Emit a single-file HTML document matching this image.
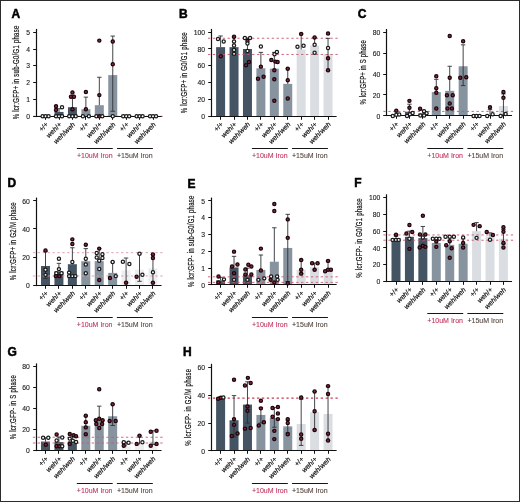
<!DOCTYPE html>
<html><head><meta charset="utf-8"><style>
html,body{margin:0;padding:0;background:#fff;}
body{width:520px;height:502px;overflow:hidden;}
svg{display:block;will-change:transform;}
text{font-family:"Liberation Sans",sans-serif;fill:#1a1a1a;}
.let{font-size:12px;font-weight:bold;fill:#000;stroke:#000;stroke-width:0.5px;}
.yl{font-size:8.3px;fill:#1a1a1a;stroke:#1a1a1a;stroke-width:0.22px;}
.tk{font-size:6.8px;fill:#222;stroke:#222;stroke-width:0.12px;}
.xl{font-size:6.9px;fill:#111;stroke:#111;stroke-width:0.18px;}
.gl{font-size:7px;stroke-width:0.1px;}
</style></head><body>
<svg width="520" height="502" viewBox="0 0 520 502">
<rect x="0" y="0" width="520" height="502" fill="#fff"/>
<g id="pA"><text x="11.5" y="18.2" class="let">A</text>
<text class="yl" transform="translate(19.3,72.5) rotate(-90) scale(0.72,1)" text-anchor="middle" textLength="130" lengthAdjust="spacing">% lcr:GFP+ in sub-G0/G1 phase</text>
<rect x="54.53" y="111.93" width="9.0" height="4.37" fill="#445462"/>
<rect x="67.96" y="107.22" width="9.0" height="9.08" fill="#445462"/>
<rect x="81.39" y="109.24" width="9.0" height="7.06" fill="#8794a0"/>
<rect x="94.82" y="105.2" width="9.0" height="11.1" fill="#8794a0"/>
<rect x="108.25" y="75.09" width="9.0" height="41.21" fill="#8794a0"/>
<line x1="33" y1="116.3" x2="163.64" y2="116.3" stroke="#c9566c" stroke-width="0.9" stroke-dasharray="2.3 2.6"/>
<line x1="59.03" y1="111.93" x2="59.03" y2="108.73" stroke="#2c3035" stroke-width="0.9"/>
<line x1="56.83" y1="108.73" x2="61.23" y2="108.73" stroke="#2c3035" stroke-width="0.9"/>
<line x1="72.46" y1="107.22" x2="72.46" y2="97.8" stroke="#2c3035" stroke-width="0.9"/>
<line x1="70.26" y1="97.8" x2="74.66" y2="97.8" stroke="#2c3035" stroke-width="0.9"/>
<line x1="85.89" y1="109.24" x2="85.89" y2="97.13" stroke="#2c3035" stroke-width="0.9"/>
<line x1="83.69" y1="97.13" x2="88.09" y2="97.13" stroke="#2c3035" stroke-width="0.9"/>
<line x1="99.32" y1="105.2" x2="99.32" y2="77.28" stroke="#2c3035" stroke-width="0.9"/>
<line x1="97.12" y1="77.28" x2="101.52" y2="77.28" stroke="#2c3035" stroke-width="0.9"/>
<line x1="112.75" y1="111.25" x2="112.75" y2="36.07" stroke="#2c3035" stroke-width="0.9"/>
<line x1="110.55" y1="36.07" x2="114.95" y2="36.07" stroke="#2c3035" stroke-width="0.9"/>
<line x1="110.55" y1="111.25" x2="114.95" y2="111.25" stroke="#2c3035" stroke-width="0.9"/>
<line x1="36.5" y1="28.9" x2="36.5" y2="117.1" stroke="#111" stroke-width="1.2"/>
<line x1="35.9" y1="116.5" x2="161.64" y2="116.5" stroke="#111" stroke-width="1.2"/>
<line x1="33.2" y1="116.5" x2="36.5" y2="116.5" stroke="#111" stroke-width="1"/>
<text x="30" y="118.9" class="tk" text-anchor="end">0</text>
<line x1="33.2" y1="99.5" x2="36.5" y2="99.5" stroke="#111" stroke-width="1"/>
<text x="30" y="102.08" class="tk" text-anchor="end">1</text>
<line x1="33.2" y1="82.5" x2="36.5" y2="82.5" stroke="#111" stroke-width="1"/>
<text x="30" y="85.26" class="tk" text-anchor="end">2</text>
<line x1="33.2" y1="65.5" x2="36.5" y2="65.5" stroke="#111" stroke-width="1"/>
<text x="30" y="68.44" class="tk" text-anchor="end">3</text>
<line x1="33.2" y1="49.5" x2="36.5" y2="49.5" stroke="#111" stroke-width="1"/>
<text x="30" y="51.62" class="tk" text-anchor="end">4</text>
<line x1="33.2" y1="32.5" x2="36.5" y2="32.5" stroke="#111" stroke-width="1"/>
<text x="30" y="34.8" class="tk" text-anchor="end">5</text>
<line x1="45.5" y1="116.5" x2="45.5" y2="119.8" stroke="#111" stroke-width="1"/>
<line x1="59.5" y1="116.5" x2="59.5" y2="119.8" stroke="#111" stroke-width="1"/>
<line x1="72.5" y1="116.5" x2="72.5" y2="119.8" stroke="#111" stroke-width="1"/>
<line x1="85.5" y1="116.5" x2="85.5" y2="119.8" stroke="#111" stroke-width="1"/>
<line x1="99.5" y1="116.5" x2="99.5" y2="119.8" stroke="#111" stroke-width="1"/>
<line x1="112.5" y1="116.5" x2="112.5" y2="119.8" stroke="#111" stroke-width="1"/>
<line x1="126.5" y1="116.5" x2="126.5" y2="119.8" stroke="#111" stroke-width="1"/>
<line x1="139.5" y1="116.5" x2="139.5" y2="119.8" stroke="#111" stroke-width="1"/>
<line x1="153.5" y1="116.5" x2="153.5" y2="119.8" stroke="#111" stroke-width="1"/>
<circle cx="42.6" cy="116.3" r="1.6" fill="#fff" stroke="#1a1a1a" stroke-width="1.25"/>
<circle cx="45.6" cy="116.3" r="1.6" fill="#fff" stroke="#1a1a1a" stroke-width="1.25"/>
<circle cx="48.6" cy="116.3" r="1.6" fill="#fff" stroke="#1a1a1a" stroke-width="1.25"/>
<circle cx="56.03" cy="106.21" r="1.6" fill="#862840" stroke="#1c0509" stroke-width="1.25"/>
<circle cx="56.03" cy="109.91" r="1.6" fill="#862840" stroke="#1c0509" stroke-width="1.25"/>
<circle cx="62.03" cy="107.22" r="1.6" fill="#fff" stroke="#1a1a1a" stroke-width="1.25"/>
<circle cx="56.03" cy="116.3" r="1.6" fill="#fff" stroke="#1a1a1a" stroke-width="1.25"/>
<circle cx="59.03" cy="116.3" r="1.6" fill="#fff" stroke="#1a1a1a" stroke-width="1.25"/>
<circle cx="62.03" cy="116.3" r="1.6" fill="#fff" stroke="#1a1a1a" stroke-width="1.25"/>
<circle cx="72.46" cy="92.42" r="1.6" fill="#862840" stroke="#1c0509" stroke-width="1.25"/>
<circle cx="70.96" cy="96.79" r="1.6" fill="#862840" stroke="#1c0509" stroke-width="1.25"/>
<circle cx="73.96" cy="96.79" r="1.6" fill="#862840" stroke="#1c0509" stroke-width="1.25"/>
<circle cx="72.46" cy="109.24" r="1.6" fill="#862840" stroke="#1c0509" stroke-width="1.25"/>
<circle cx="69.16" cy="116.3" r="1.6" fill="#fff" stroke="#1a1a1a" stroke-width="1.25"/>
<circle cx="72.46" cy="116.3" r="1.6" fill="#fff" stroke="#1a1a1a" stroke-width="1.25"/>
<circle cx="75.76" cy="116.3" r="1.6" fill="#fff" stroke="#1a1a1a" stroke-width="1.25"/>
<circle cx="85.89" cy="92.08" r="1.6" fill="#862840" stroke="#1c0509" stroke-width="1.25"/>
<circle cx="85.89" cy="109.24" r="1.6" fill="#862840" stroke="#1c0509" stroke-width="1.25"/>
<circle cx="82.89" cy="116.3" r="1.6" fill="#fff" stroke="#1a1a1a" stroke-width="1.25"/>
<circle cx="88.89" cy="116.3" r="1.6" fill="#fff" stroke="#1a1a1a" stroke-width="1.25"/>
<circle cx="99.32" cy="40.61" r="1.6" fill="#862840" stroke="#1c0509" stroke-width="1.25"/>
<circle cx="99.32" cy="95.11" r="1.6" fill="#862840" stroke="#1c0509" stroke-width="1.25"/>
<circle cx="96.32" cy="116.3" r="1.6" fill="#fff" stroke="#1a1a1a" stroke-width="1.25"/>
<circle cx="99.32" cy="116.3" r="1.6" fill="#862840" stroke="#1c0509" stroke-width="1.25"/>
<circle cx="102.32" cy="116.3" r="1.6" fill="#fff" stroke="#1a1a1a" stroke-width="1.25"/>
<circle cx="112.75" cy="41.45" r="1.6" fill="#862840" stroke="#1c0509" stroke-width="1.25"/>
<circle cx="112.75" cy="64.16" r="1.6" fill="#862840" stroke="#1c0509" stroke-width="1.25"/>
<circle cx="112.75" cy="116.3" r="1.6" fill="#fff" stroke="#1a1a1a" stroke-width="1.25"/>
<circle cx="123.18" cy="116.3" r="1.6" fill="#fff" stroke="#1a1a1a" stroke-width="1.25"/>
<circle cx="126.18" cy="116.3" r="1.6" fill="#fff" stroke="#1a1a1a" stroke-width="1.25"/>
<circle cx="129.18" cy="116.3" r="1.6" fill="#fff" stroke="#1a1a1a" stroke-width="1.25"/>
<circle cx="136.61" cy="116.3" r="1.6" fill="#fff" stroke="#1a1a1a" stroke-width="1.25"/>
<circle cx="139.61" cy="116.3" r="1.6" fill="#fff" stroke="#1a1a1a" stroke-width="1.25"/>
<circle cx="142.61" cy="116.3" r="1.6" fill="#fff" stroke="#1a1a1a" stroke-width="1.25"/>
<circle cx="150.04" cy="116.3" r="1.6" fill="#fff" stroke="#1a1a1a" stroke-width="1.25"/>
<circle cx="153.04" cy="116.3" r="1.6" fill="#fff" stroke="#1a1a1a" stroke-width="1.25"/>
<circle cx="156.04" cy="116.3" r="1.6" fill="#fff" stroke="#1a1a1a" stroke-width="1.25"/>
<text class="xl" text-anchor="end" transform="translate(48.7,125) rotate(-45)">+/+</text>
<text class="xl" text-anchor="end" transform="translate(62.13,125) rotate(-45)"><tspan font-style="italic">weh</tspan>/+</text>
<text class="xl" text-anchor="end" transform="translate(75.56,125) rotate(-45)"><tspan font-style="italic">weh</tspan>/<tspan font-style="italic">weh</tspan></text>
<text class="xl" text-anchor="end" transform="translate(88.99,125) rotate(-45)">+/+</text>
<text class="xl" text-anchor="end" transform="translate(102.42,125) rotate(-45)"><tspan font-style="italic">weh</tspan>/+</text>
<text class="xl" text-anchor="end" transform="translate(115.85,125) rotate(-45)"><tspan font-style="italic">weh</tspan>/<tspan font-style="italic">weh</tspan></text>
<text class="xl" text-anchor="end" transform="translate(129.28,125) rotate(-45)">+/+</text>
<text class="xl" text-anchor="end" transform="translate(142.71,125) rotate(-45)"><tspan font-style="italic">weh</tspan>/+</text>
<text class="xl" text-anchor="end" transform="translate(156.14,125) rotate(-45)"><tspan font-style="italic">weh</tspan>/<tspan font-style="italic">weh</tspan></text>
<line x1="76.9" y1="148.5" x2="112.8" y2="148.5" stroke="#151515" stroke-width="1.1"/>
<text class="gl" x="76.9" y="157.9" textLength="35.7" lengthAdjust="spacingAndGlyphs"><tspan fill="#a83558" stroke="#a83558">+</tspan><tspan fill="#c4365f" stroke="#c4365f">10uM Iron</tspan></text>
<line x1="117" y1="148.5" x2="152.9" y2="148.5" stroke="#151515" stroke-width="1.1"/>
<text class="gl" x="117" y="157.9" textLength="35.7" lengthAdjust="spacingAndGlyphs"><tspan fill="#333" stroke="#333">+</tspan><tspan fill="#56483f" stroke="#56483f">15uM Iron</tspan></text></g>
<g id="pB"><text x="178.9" y="17.7" class="let">B</text>
<text class="yl" transform="translate(186.5,72.8) rotate(-90) scale(0.72,1)" text-anchor="middle" textLength="112.22" lengthAdjust="spacing">% lcr:GFP+ in G0/G1 phase</text>
<rect x="216.1" y="47.15" width="9.0" height="69.05" fill="#445462"/>
<rect x="229.53" y="47.15" width="9.0" height="69.05" fill="#445462"/>
<rect x="242.96" y="49" width="9.0" height="67.2" fill="#445462"/>
<rect x="256.39" y="68.32" width="9.0" height="47.88" fill="#8794a0"/>
<rect x="269.82" y="68.66" width="9.0" height="47.54" fill="#8794a0"/>
<rect x="283.25" y="83.86" width="9.0" height="32.34" fill="#8794a0"/>
<rect x="296.68" y="49.5" width="9.0" height="66.7" fill="#dadee2"/>
<rect x="310.11" y="45.64" width="9.0" height="70.56" fill="#dadee2"/>
<rect x="323.54" y="54.04" width="9.0" height="62.16" fill="#dadee2"/>
<line x1="208" y1="38.25" x2="338.64" y2="38.25" stroke="#c9566c" stroke-width="0.9" stroke-dasharray="2.3 2.6"/>
<line x1="208" y1="54.46" x2="338.64" y2="54.46" stroke="#c9566c" stroke-width="0.9" stroke-dasharray="2.3 2.6"/>
<line x1="220.6" y1="47.15" x2="220.6" y2="35.98" stroke="#2c3035" stroke-width="0.9"/>
<line x1="218.4" y1="35.98" x2="222.8" y2="35.98" stroke="#2c3035" stroke-width="0.9"/>
<line x1="234.03" y1="47.15" x2="234.03" y2="37.24" stroke="#2c3035" stroke-width="0.9"/>
<line x1="231.83" y1="37.24" x2="236.23" y2="37.24" stroke="#2c3035" stroke-width="0.9"/>
<line x1="247.46" y1="49" x2="247.46" y2="38.08" stroke="#2c3035" stroke-width="0.9"/>
<line x1="245.26" y1="38.08" x2="249.66" y2="38.08" stroke="#2c3035" stroke-width="0.9"/>
<line x1="260.89" y1="68.32" x2="260.89" y2="52.36" stroke="#2c3035" stroke-width="0.9"/>
<line x1="258.69" y1="52.36" x2="263.09" y2="52.36" stroke="#2c3035" stroke-width="0.9"/>
<line x1="274.32" y1="68.66" x2="274.32" y2="52.36" stroke="#2c3035" stroke-width="0.9"/>
<line x1="272.12" y1="52.36" x2="276.52" y2="52.36" stroke="#2c3035" stroke-width="0.9"/>
<line x1="287.75" y1="83.86" x2="287.75" y2="68.66" stroke="#2c3035" stroke-width="0.9"/>
<line x1="285.55" y1="68.66" x2="289.95" y2="68.66" stroke="#2c3035" stroke-width="0.9"/>
<line x1="301.18" y1="49.5" x2="301.18" y2="33.88" stroke="#2c3035" stroke-width="0.9"/>
<line x1="298.98" y1="33.88" x2="303.38" y2="33.88" stroke="#2c3035" stroke-width="0.9"/>
<line x1="314.61" y1="45.64" x2="314.61" y2="37.58" stroke="#2c3035" stroke-width="0.9"/>
<line x1="312.41" y1="37.58" x2="316.81" y2="37.58" stroke="#2c3035" stroke-width="0.9"/>
<line x1="328.04" y1="70.42" x2="328.04" y2="38.33" stroke="#2c3035" stroke-width="0.9"/>
<line x1="325.84" y1="38.33" x2="330.24" y2="38.33" stroke="#2c3035" stroke-width="0.9"/>
<line x1="325.84" y1="70.42" x2="330.24" y2="70.42" stroke="#2c3035" stroke-width="0.9"/>
<line x1="211.5" y1="28.9" x2="211.5" y2="117.1" stroke="#111" stroke-width="1.2"/>
<line x1="210.9" y1="116.5" x2="336.64" y2="116.5" stroke="#111" stroke-width="1.2"/>
<line x1="208.2" y1="116.5" x2="211.5" y2="116.5" stroke="#111" stroke-width="1"/>
<text x="205" y="118.8" class="tk" text-anchor="end">0</text>
<line x1="208.2" y1="99.5" x2="211.5" y2="99.5" stroke="#111" stroke-width="1"/>
<text x="205" y="102" class="tk" text-anchor="end">20</text>
<line x1="208.2" y1="82.5" x2="211.5" y2="82.5" stroke="#111" stroke-width="1"/>
<text x="205" y="85.2" class="tk" text-anchor="end">40</text>
<line x1="208.2" y1="65.5" x2="211.5" y2="65.5" stroke="#111" stroke-width="1"/>
<text x="205" y="68.4" class="tk" text-anchor="end">60</text>
<line x1="208.2" y1="48.5" x2="211.5" y2="48.5" stroke="#111" stroke-width="1"/>
<text x="205" y="51.6" class="tk" text-anchor="end">80</text>
<line x1="208.2" y1="32.5" x2="211.5" y2="32.5" stroke="#111" stroke-width="1"/>
<text x="205" y="34.8" class="tk" text-anchor="end">100</text>
<line x1="220.5" y1="116.5" x2="220.5" y2="119.8" stroke="#111" stroke-width="1"/>
<line x1="234.5" y1="116.5" x2="234.5" y2="119.8" stroke="#111" stroke-width="1"/>
<line x1="247.5" y1="116.5" x2="247.5" y2="119.8" stroke="#111" stroke-width="1"/>
<line x1="260.5" y1="116.5" x2="260.5" y2="119.8" stroke="#111" stroke-width="1"/>
<line x1="274.5" y1="116.5" x2="274.5" y2="119.8" stroke="#111" stroke-width="1"/>
<line x1="287.5" y1="116.5" x2="287.5" y2="119.8" stroke="#111" stroke-width="1"/>
<line x1="301.5" y1="116.5" x2="301.5" y2="119.8" stroke="#111" stroke-width="1"/>
<line x1="314.5" y1="116.5" x2="314.5" y2="119.8" stroke="#111" stroke-width="1"/>
<line x1="328.5" y1="116.5" x2="328.5" y2="119.8" stroke="#111" stroke-width="1"/>
<circle cx="218" cy="38.92" r="1.6" fill="#fff" stroke="#1a1a1a" stroke-width="1.25"/>
<circle cx="223.7" cy="41.44" r="1.6" fill="#fff" stroke="#1a1a1a" stroke-width="1.25"/>
<circle cx="220.8" cy="56.31" r="1.6" fill="#862840" stroke="#1c0509" stroke-width="1.25"/>
<circle cx="234.03" cy="36.74" r="1.6" fill="#862840" stroke="#1c0509" stroke-width="1.25"/>
<circle cx="234.03" cy="41.52" r="1.6" fill="#fff" stroke="#1a1a1a" stroke-width="1.25"/>
<circle cx="234.03" cy="45.47" r="1.6" fill="#fff" stroke="#1a1a1a" stroke-width="1.25"/>
<circle cx="234.03" cy="50.01" r="1.6" fill="#fff" stroke="#1a1a1a" stroke-width="1.25"/>
<circle cx="234.03" cy="53.87" r="1.6" fill="#fff" stroke="#1a1a1a" stroke-width="1.25"/>
<circle cx="244.86" cy="38.08" r="1.6" fill="#fff" stroke="#1a1a1a" stroke-width="1.25"/>
<circle cx="250.06" cy="38.08" r="1.6" fill="#fff" stroke="#1a1a1a" stroke-width="1.25"/>
<circle cx="247.46" cy="41.02" r="1.6" fill="#862840" stroke="#1c0509" stroke-width="1.25"/>
<circle cx="247.46" cy="43.46" r="1.6" fill="#fff" stroke="#1a1a1a" stroke-width="1.25"/>
<circle cx="247.46" cy="51.02" r="1.6" fill="#fff" stroke="#1a1a1a" stroke-width="1.25"/>
<circle cx="246.06" cy="65.3" r="1.6" fill="#862840" stroke="#1c0509" stroke-width="1.25"/>
<circle cx="248.96" cy="62.02" r="1.6" fill="#862840" stroke="#1c0509" stroke-width="1.25"/>
<circle cx="260.89" cy="46.48" r="1.6" fill="#fff" stroke="#1a1a1a" stroke-width="1.25"/>
<circle cx="260.89" cy="66.64" r="1.6" fill="#862840" stroke="#1c0509" stroke-width="1.25"/>
<circle cx="257.99" cy="78.65" r="1.6" fill="#862840" stroke="#1c0509" stroke-width="1.25"/>
<circle cx="263.59" cy="76.72" r="1.6" fill="#862840" stroke="#1c0509" stroke-width="1.25"/>
<circle cx="274.52" cy="54.29" r="1.6" fill="#fff" stroke="#1a1a1a" stroke-width="1.25"/>
<circle cx="276.92" cy="51.94" r="1.6" fill="#fff" stroke="#1a1a1a" stroke-width="1.25"/>
<circle cx="271.32" cy="59.92" r="1.6" fill="#862840" stroke="#1c0509" stroke-width="1.25"/>
<circle cx="275.32" cy="61.6" r="1.6" fill="#862840" stroke="#1c0509" stroke-width="1.25"/>
<circle cx="277.62" cy="61.94" r="1.6" fill="#862840" stroke="#1c0509" stroke-width="1.25"/>
<circle cx="274.32" cy="70.34" r="1.6" fill="#862840" stroke="#1c0509" stroke-width="1.25"/>
<circle cx="274.32" cy="79.24" r="1.6" fill="#862840" stroke="#1c0509" stroke-width="1.25"/>
<circle cx="274.32" cy="100.74" r="1.6" fill="#862840" stroke="#1c0509" stroke-width="1.25"/>
<circle cx="287.75" cy="68.66" r="1.6" fill="#862840" stroke="#1c0509" stroke-width="1.25"/>
<circle cx="287.75" cy="80.33" r="1.6" fill="#862840" stroke="#1c0509" stroke-width="1.25"/>
<circle cx="287.75" cy="98.56" r="1.6" fill="#862840" stroke="#1c0509" stroke-width="1.25"/>
<circle cx="301.18" cy="33.88" r="1.6" fill="#862840" stroke="#1c0509" stroke-width="1.25"/>
<circle cx="297.48" cy="46.73" r="1.6" fill="#fff" stroke="#1a1a1a" stroke-width="1.25"/>
<circle cx="303.58" cy="45.72" r="1.6" fill="#fff" stroke="#1a1a1a" stroke-width="1.25"/>
<circle cx="314.61" cy="37.58" r="1.6" fill="#862840" stroke="#1c0509" stroke-width="1.25"/>
<circle cx="314.61" cy="44.8" r="1.6" fill="#fff" stroke="#1a1a1a" stroke-width="1.25"/>
<circle cx="314.61" cy="52.7" r="1.6" fill="#fff" stroke="#1a1a1a" stroke-width="1.25"/>
<circle cx="328.04" cy="33.46" r="1.6" fill="#862840" stroke="#1c0509" stroke-width="1.25"/>
<circle cx="328.04" cy="47.91" r="1.6" fill="#fff" stroke="#1a1a1a" stroke-width="1.25"/>
<circle cx="328.04" cy="58.24" r="1.6" fill="#862840" stroke="#1c0509" stroke-width="1.25"/>
<circle cx="328.04" cy="70.25" r="1.6" fill="#862840" stroke="#1c0509" stroke-width="1.25"/>
<text class="xl" text-anchor="end" transform="translate(223.7,124.9) rotate(-45)">+/+</text>
<text class="xl" text-anchor="end" transform="translate(237.13,124.9) rotate(-45)"><tspan font-style="italic">weh</tspan>/+</text>
<text class="xl" text-anchor="end" transform="translate(250.56,124.9) rotate(-45)"><tspan font-style="italic">weh</tspan>/<tspan font-style="italic">weh</tspan></text>
<text class="xl" text-anchor="end" transform="translate(263.99,124.9) rotate(-45)">+/+</text>
<text class="xl" text-anchor="end" transform="translate(277.42,124.9) rotate(-45)"><tspan font-style="italic">weh</tspan>/+</text>
<text class="xl" text-anchor="end" transform="translate(290.85,124.9) rotate(-45)"><tspan font-style="italic">weh</tspan>/<tspan font-style="italic">weh</tspan></text>
<text class="xl" text-anchor="end" transform="translate(304.28,124.9) rotate(-45)">+/+</text>
<text class="xl" text-anchor="end" transform="translate(317.71,124.9) rotate(-45)"><tspan font-style="italic">weh</tspan>/+</text>
<text class="xl" text-anchor="end" transform="translate(331.14,124.9) rotate(-45)"><tspan font-style="italic">weh</tspan>/<tspan font-style="italic">weh</tspan></text>
<line x1="251.9" y1="148.5" x2="287.8" y2="148.5" stroke="#151515" stroke-width="1.1"/>
<text class="gl" x="251.9" y="157.9" textLength="35.7" lengthAdjust="spacingAndGlyphs"><tspan fill="#a83558" stroke="#a83558">+</tspan><tspan fill="#c4365f" stroke="#c4365f">10uM Iron</tspan></text>
<line x1="292" y1="148.5" x2="327.9" y2="148.5" stroke="#151515" stroke-width="1.1"/>
<text class="gl" x="292" y="157.9" textLength="35.7" lengthAdjust="spacingAndGlyphs"><tspan fill="#333" stroke="#333">+</tspan><tspan fill="#56483f" stroke="#56483f">15uM Iron</tspan></text></g>
<g id="pC"><text x="357.8" y="18" class="let">C</text>
<text class="yl" transform="translate(365.8,72.45) rotate(-90) scale(0.72,1)" text-anchor="middle" textLength="89.31" lengthAdjust="spacing">% lcr:GFP+ in S phase</text>
<rect x="391.5" y="114.65" width="9.0" height="1.25" fill="#445462"/>
<rect x="404.93" y="111.72" width="9.0" height="4.18" fill="#445462"/>
<rect x="418.36" y="113.5" width="9.0" height="2.4" fill="#445462"/>
<rect x="431.79" y="92.07" width="9.0" height="23.83" fill="#8794a0"/>
<rect x="445.22" y="90.82" width="9.0" height="25.08" fill="#8794a0"/>
<rect x="458.65" y="66.26" width="9.0" height="49.64" fill="#8794a0"/>
<rect x="485.51" y="114.86" width="9.0" height="1.05" fill="#dadee2"/>
<rect x="498.94" y="105.97" width="9.0" height="9.93" fill="#dadee2"/>
<line x1="383.4" y1="111.41" x2="514.04" y2="111.41" stroke="#c9566c" stroke-width="0.9" stroke-dasharray="2.3 2.6"/>
<line x1="409.43" y1="111.72" x2="409.43" y2="104.2" stroke="#2c3035" stroke-width="0.9"/>
<line x1="407.23" y1="104.2" x2="411.63" y2="104.2" stroke="#2c3035" stroke-width="0.9"/>
<line x1="422.86" y1="113.5" x2="422.86" y2="110.15" stroke="#2c3035" stroke-width="0.9"/>
<line x1="420.66" y1="110.15" x2="425.06" y2="110.15" stroke="#2c3035" stroke-width="0.9"/>
<line x1="436.29" y1="92.07" x2="436.29" y2="79.33" stroke="#2c3035" stroke-width="0.9"/>
<line x1="434.09" y1="79.33" x2="438.49" y2="79.33" stroke="#2c3035" stroke-width="0.9"/>
<line x1="449.72" y1="90.82" x2="449.72" y2="66.26" stroke="#2c3035" stroke-width="0.9"/>
<line x1="447.52" y1="66.26" x2="451.92" y2="66.26" stroke="#2c3035" stroke-width="0.9"/>
<line x1="463.15" y1="85.59" x2="463.15" y2="44.84" stroke="#2c3035" stroke-width="0.9"/>
<line x1="460.95" y1="44.84" x2="465.35" y2="44.84" stroke="#2c3035" stroke-width="0.9"/>
<line x1="460.95" y1="85.59" x2="465.35" y2="85.59" stroke="#2c3035" stroke-width="0.9"/>
<line x1="490.01" y1="114.86" x2="490.01" y2="109.63" stroke="#2c3035" stroke-width="0.9"/>
<line x1="487.81" y1="109.63" x2="492.21" y2="109.63" stroke="#2c3035" stroke-width="0.9"/>
<line x1="503.44" y1="114.86" x2="503.44" y2="93.95" stroke="#2c3035" stroke-width="0.9"/>
<line x1="501.24" y1="93.95" x2="505.64" y2="93.95" stroke="#2c3035" stroke-width="0.9"/>
<line x1="501.24" y1="114.86" x2="505.64" y2="114.86" stroke="#2c3035" stroke-width="0.9"/>
<line x1="386.5" y1="29" x2="386.5" y2="116.1" stroke="#111" stroke-width="1.2"/>
<line x1="385.9" y1="115.5" x2="512.04" y2="115.5" stroke="#111" stroke-width="1.2"/>
<line x1="383.2" y1="115.5" x2="386.5" y2="115.5" stroke="#111" stroke-width="1"/>
<text x="380.4" y="118.5" class="tk" text-anchor="end">0</text>
<line x1="383.2" y1="94.5" x2="386.5" y2="94.5" stroke="#111" stroke-width="1"/>
<text x="380.4" y="97.6" class="tk" text-anchor="end">20</text>
<line x1="383.2" y1="74.5" x2="386.5" y2="74.5" stroke="#111" stroke-width="1"/>
<text x="380.4" y="76.7" class="tk" text-anchor="end">40</text>
<line x1="383.2" y1="53.5" x2="386.5" y2="53.5" stroke="#111" stroke-width="1"/>
<text x="380.4" y="55.8" class="tk" text-anchor="end">60</text>
<line x1="383.2" y1="32.5" x2="386.5" y2="32.5" stroke="#111" stroke-width="1"/>
<text x="380.4" y="34.9" class="tk" text-anchor="end">80</text>
<line x1="396.5" y1="115.5" x2="396.5" y2="118.8" stroke="#111" stroke-width="1"/>
<line x1="409.5" y1="115.5" x2="409.5" y2="118.8" stroke="#111" stroke-width="1"/>
<line x1="422.5" y1="115.5" x2="422.5" y2="118.8" stroke="#111" stroke-width="1"/>
<line x1="436.5" y1="115.5" x2="436.5" y2="118.8" stroke="#111" stroke-width="1"/>
<line x1="449.5" y1="115.5" x2="449.5" y2="118.8" stroke="#111" stroke-width="1"/>
<line x1="463.5" y1="115.5" x2="463.5" y2="118.8" stroke="#111" stroke-width="1"/>
<line x1="476.5" y1="115.5" x2="476.5" y2="118.8" stroke="#111" stroke-width="1"/>
<line x1="490.5" y1="115.5" x2="490.5" y2="118.8" stroke="#111" stroke-width="1"/>
<line x1="503.5" y1="115.5" x2="503.5" y2="118.8" stroke="#111" stroke-width="1"/>
<circle cx="396.3" cy="110.68" r="1.6" fill="#862840" stroke="#1c0509" stroke-width="1.25"/>
<circle cx="392.8" cy="115.9" r="1.6" fill="#fff" stroke="#1a1a1a" stroke-width="1.25"/>
<circle cx="396.3" cy="114.65" r="1.6" fill="#fff" stroke="#1a1a1a" stroke-width="1.25"/>
<circle cx="399.2" cy="114.44" r="1.6" fill="#fff" stroke="#1a1a1a" stroke-width="1.25"/>
<circle cx="409.43" cy="100.85" r="1.6" fill="#862840" stroke="#1c0509" stroke-width="1.25"/>
<circle cx="409.43" cy="107.75" r="1.6" fill="#862840" stroke="#1c0509" stroke-width="1.25"/>
<circle cx="407.03" cy="115.9" r="1.6" fill="#fff" stroke="#1a1a1a" stroke-width="1.25"/>
<circle cx="409.93" cy="114.33" r="1.6" fill="#fff" stroke="#1a1a1a" stroke-width="1.25"/>
<circle cx="412.63" cy="112.97" r="1.6" fill="#fff" stroke="#1a1a1a" stroke-width="1.25"/>
<circle cx="420.06" cy="108.79" r="1.6" fill="#862840" stroke="#1c0509" stroke-width="1.25"/>
<circle cx="424.06" cy="111.2" r="1.6" fill="#fff" stroke="#1a1a1a" stroke-width="1.25"/>
<circle cx="426.56" cy="113.29" r="1.6" fill="#fff" stroke="#1a1a1a" stroke-width="1.25"/>
<circle cx="420.36" cy="115.48" r="1.6" fill="#fff" stroke="#1a1a1a" stroke-width="1.25"/>
<circle cx="424.06" cy="115.48" r="1.6" fill="#fff" stroke="#1a1a1a" stroke-width="1.25"/>
<circle cx="436.29" cy="76.19" r="1.6" fill="#862840" stroke="#1c0509" stroke-width="1.25"/>
<circle cx="436.29" cy="88.31" r="1.6" fill="#862840" stroke="#1c0509" stroke-width="1.25"/>
<circle cx="436.29" cy="92.7" r="1.6" fill="#862840" stroke="#1c0509" stroke-width="1.25"/>
<circle cx="436.29" cy="108.59" r="1.6" fill="#862840" stroke="#1c0509" stroke-width="1.25"/>
<circle cx="449.72" cy="35.96" r="1.6" fill="#862840" stroke="#1c0509" stroke-width="1.25"/>
<circle cx="449.72" cy="77.76" r="1.6" fill="#862840" stroke="#1c0509" stroke-width="1.25"/>
<circle cx="446.92" cy="95.31" r="1.6" fill="#862840" stroke="#1c0509" stroke-width="1.25"/>
<circle cx="452.72" cy="95.31" r="1.6" fill="#862840" stroke="#1c0509" stroke-width="1.25"/>
<circle cx="449.72" cy="103.57" r="1.6" fill="#862840" stroke="#1c0509" stroke-width="1.25"/>
<circle cx="447.52" cy="108.59" r="1.6" fill="#862840" stroke="#1c0509" stroke-width="1.25"/>
<circle cx="451.92" cy="108.59" r="1.6" fill="#862840" stroke="#1c0509" stroke-width="1.25"/>
<circle cx="463.15" cy="41.29" r="1.6" fill="#862840" stroke="#1c0509" stroke-width="1.25"/>
<circle cx="460.25" cy="77.76" r="1.6" fill="#862840" stroke="#1c0509" stroke-width="1.25"/>
<circle cx="466.25" cy="77.23" r="1.6" fill="#862840" stroke="#1c0509" stroke-width="1.25"/>
<circle cx="473.58" cy="115.9" r="1.6" fill="#fff" stroke="#1a1a1a" stroke-width="1.25"/>
<circle cx="476.58" cy="115.9" r="1.6" fill="#fff" stroke="#1a1a1a" stroke-width="1.25"/>
<circle cx="479.58" cy="115.9" r="1.6" fill="#fff" stroke="#1a1a1a" stroke-width="1.25"/>
<circle cx="490.01" cy="107.23" r="1.6" fill="#862840" stroke="#1c0509" stroke-width="1.25"/>
<circle cx="487.21" cy="115.9" r="1.6" fill="#fff" stroke="#1a1a1a" stroke-width="1.25"/>
<circle cx="492.61" cy="114.33" r="1.6" fill="#fff" stroke="#1a1a1a" stroke-width="1.25"/>
<circle cx="503.44" cy="92.07" r="1.6" fill="#862840" stroke="#1c0509" stroke-width="1.25"/>
<circle cx="503.44" cy="97.72" r="1.6" fill="#862840" stroke="#1c0509" stroke-width="1.25"/>
<circle cx="500.64" cy="115.9" r="1.6" fill="#fff" stroke="#1a1a1a" stroke-width="1.25"/>
<circle cx="505.64" cy="114.02" r="1.6" fill="#fff" stroke="#1a1a1a" stroke-width="1.25"/>
<text class="xl" text-anchor="end" transform="translate(399.1,124.6) rotate(-45)">+/+</text>
<text class="xl" text-anchor="end" transform="translate(412.53,124.6) rotate(-45)"><tspan font-style="italic">weh</tspan>/+</text>
<text class="xl" text-anchor="end" transform="translate(425.96,124.6) rotate(-45)"><tspan font-style="italic">weh</tspan>/<tspan font-style="italic">weh</tspan></text>
<text class="xl" text-anchor="end" transform="translate(439.39,124.6) rotate(-45)">+/+</text>
<text class="xl" text-anchor="end" transform="translate(452.82,124.6) rotate(-45)"><tspan font-style="italic">weh</tspan>/+</text>
<text class="xl" text-anchor="end" transform="translate(466.25,124.6) rotate(-45)"><tspan font-style="italic">weh</tspan>/<tspan font-style="italic">weh</tspan></text>
<text class="xl" text-anchor="end" transform="translate(479.68,124.6) rotate(-45)">+/+</text>
<text class="xl" text-anchor="end" transform="translate(493.11,124.6) rotate(-45)"><tspan font-style="italic">weh</tspan>/+</text>
<text class="xl" text-anchor="end" transform="translate(506.54,124.6) rotate(-45)"><tspan font-style="italic">weh</tspan>/<tspan font-style="italic">weh</tspan></text>
<line x1="427.3" y1="148.5" x2="463.2" y2="148.5" stroke="#151515" stroke-width="1.1"/>
<text class="gl" x="427.3" y="157.9" textLength="35.7" lengthAdjust="spacingAndGlyphs"><tspan fill="#a83558" stroke="#a83558">+</tspan><tspan fill="#c4365f" stroke="#c4365f">10uM Iron</tspan></text>
<line x1="467.4" y1="148.5" x2="503.3" y2="148.5" stroke="#151515" stroke-width="1.1"/>
<text class="gl" x="467.4" y="157.9" textLength="35.7" lengthAdjust="spacingAndGlyphs"><tspan fill="#333" stroke="#333">+</tspan><tspan fill="#56483f" stroke="#56483f">15uM Iron</tspan></text></g>
<g id="pD"><text x="7.4" y="187.1" class="let">D</text>
<text class="yl" transform="translate(15.5,241.4) rotate(-90) scale(0.72,1)" text-anchor="middle" textLength="108.06" lengthAdjust="spacing">% lcr:GFP+ in G2/M phase</text>
<rect x="41" y="266.01" width="9.0" height="19.09" fill="#445462"/>
<rect x="54.43" y="271.35" width="9.0" height="13.75" fill="#445462"/>
<rect x="67.86" y="264.19" width="9.0" height="20.91" fill="#445462"/>
<rect x="81.29" y="261.24" width="9.0" height="23.86" fill="#8794a0"/>
<rect x="94.72" y="261.1" width="9.0" height="24" fill="#8794a0"/>
<rect x="108.15" y="272.89" width="9.0" height="12.21" fill="#8794a0"/>
<rect x="121.58" y="270.37" width="9.0" height="14.74" fill="#eceef0"/>
<rect x="135.01" y="269.66" width="9.0" height="15.44" fill="#eceef0"/>
<rect x="148.44" y="268.26" width="9.0" height="16.84" fill="#eceef0"/>
<line x1="32.9" y1="252.68" x2="163.54" y2="252.68" stroke="#d89aa6" stroke-width="0.9" stroke-dasharray="2.3 2.6"/>
<line x1="32.9" y1="275.98" x2="163.54" y2="275.98" stroke="#d89aa6" stroke-width="0.9" stroke-dasharray="2.3 2.6"/>
<line x1="45.5" y1="278.5" x2="45.5" y2="251.42" stroke="#2c3035" stroke-width="0.9"/>
<line x1="43.3" y1="251.42" x2="47.7" y2="251.42" stroke="#2c3035" stroke-width="0.9"/>
<line x1="43.3" y1="278.5" x2="47.7" y2="278.5" stroke="#2c3035" stroke-width="0.9"/>
<line x1="58.93" y1="271.35" x2="58.93" y2="263.35" stroke="#2c3035" stroke-width="0.9"/>
<line x1="56.73" y1="263.35" x2="61.13" y2="263.35" stroke="#2c3035" stroke-width="0.9"/>
<line x1="72.36" y1="264.19" x2="72.36" y2="247.77" stroke="#2c3035" stroke-width="0.9"/>
<line x1="70.16" y1="247.77" x2="74.56" y2="247.77" stroke="#2c3035" stroke-width="0.9"/>
<line x1="85.79" y1="261.24" x2="85.79" y2="248.61" stroke="#2c3035" stroke-width="0.9"/>
<line x1="83.59" y1="248.61" x2="87.99" y2="248.61" stroke="#2c3035" stroke-width="0.9"/>
<line x1="99.22" y1="261.1" x2="99.22" y2="248.61" stroke="#2c3035" stroke-width="0.9"/>
<line x1="97.02" y1="248.61" x2="101.42" y2="248.61" stroke="#2c3035" stroke-width="0.9"/>
<line x1="112.65" y1="272.89" x2="112.65" y2="262.09" stroke="#2c3035" stroke-width="0.9"/>
<line x1="110.45" y1="262.09" x2="114.85" y2="262.09" stroke="#2c3035" stroke-width="0.9"/>
<line x1="126.08" y1="282.71" x2="126.08" y2="258.02" stroke="#2c3035" stroke-width="0.9"/>
<line x1="123.88" y1="258.02" x2="128.28" y2="258.02" stroke="#2c3035" stroke-width="0.9"/>
<line x1="123.88" y1="282.71" x2="128.28" y2="282.71" stroke="#2c3035" stroke-width="0.9"/>
<line x1="139.51" y1="281.31" x2="139.51" y2="253.81" stroke="#2c3035" stroke-width="0.9"/>
<line x1="137.31" y1="253.81" x2="141.71" y2="253.81" stroke="#2c3035" stroke-width="0.9"/>
<line x1="137.31" y1="281.31" x2="141.71" y2="281.31" stroke="#2c3035" stroke-width="0.9"/>
<line x1="152.94" y1="282.71" x2="152.94" y2="254.51" stroke="#2c3035" stroke-width="0.9"/>
<line x1="150.74" y1="254.51" x2="155.14" y2="254.51" stroke="#2c3035" stroke-width="0.9"/>
<line x1="150.74" y1="282.71" x2="155.14" y2="282.71" stroke="#2c3035" stroke-width="0.9"/>
<line x1="36.5" y1="197.6" x2="36.5" y2="286.1" stroke="#111" stroke-width="1.2"/>
<line x1="35.9" y1="285.5" x2="161.54" y2="285.5" stroke="#111" stroke-width="1.2"/>
<line x1="33.2" y1="285.5" x2="36.5" y2="285.5" stroke="#111" stroke-width="1"/>
<text x="29.9" y="287.7" class="tk" text-anchor="end">0</text>
<line x1="33.2" y1="257.5" x2="36.5" y2="257.5" stroke="#111" stroke-width="1"/>
<text x="29.9" y="259.63" class="tk" text-anchor="end">20</text>
<line x1="33.2" y1="228.5" x2="36.5" y2="228.5" stroke="#111" stroke-width="1"/>
<text x="29.9" y="231.57" class="tk" text-anchor="end">40</text>
<line x1="33.2" y1="200.5" x2="36.5" y2="200.5" stroke="#111" stroke-width="1"/>
<text x="29.9" y="203.5" class="tk" text-anchor="end">60</text>
<line x1="45.5" y1="285.5" x2="45.5" y2="288.8" stroke="#111" stroke-width="1"/>
<line x1="58.5" y1="285.5" x2="58.5" y2="288.8" stroke="#111" stroke-width="1"/>
<line x1="72.5" y1="285.5" x2="72.5" y2="288.8" stroke="#111" stroke-width="1"/>
<line x1="85.5" y1="285.5" x2="85.5" y2="288.8" stroke="#111" stroke-width="1"/>
<line x1="99.5" y1="285.5" x2="99.5" y2="288.8" stroke="#111" stroke-width="1"/>
<line x1="112.5" y1="285.5" x2="112.5" y2="288.8" stroke="#111" stroke-width="1"/>
<line x1="126.5" y1="285.5" x2="126.5" y2="288.8" stroke="#111" stroke-width="1"/>
<line x1="139.5" y1="285.5" x2="139.5" y2="288.8" stroke="#111" stroke-width="1"/>
<line x1="152.5" y1="285.5" x2="152.5" y2="288.8" stroke="#111" stroke-width="1"/>
<circle cx="45.5" cy="250.58" r="1.6" fill="#862840" stroke="#1c0509" stroke-width="1.25"/>
<circle cx="45.5" cy="269.66" r="1.6" fill="#fff" stroke="#1a1a1a" stroke-width="1.25"/>
<circle cx="45.5" cy="274.86" r="1.6" fill="#fff" stroke="#1a1a1a" stroke-width="1.25"/>
<circle cx="58.93" cy="258.72" r="1.6" fill="#fff" stroke="#1a1a1a" stroke-width="1.25"/>
<circle cx="58.93" cy="269.1" r="1.6" fill="#fff" stroke="#1a1a1a" stroke-width="1.25"/>
<circle cx="56.33" cy="273.17" r="1.6" fill="#fff" stroke="#1a1a1a" stroke-width="1.25"/>
<circle cx="61.53" cy="273.17" r="1.6" fill="#fff" stroke="#1a1a1a" stroke-width="1.25"/>
<circle cx="55.83" cy="276.12" r="1.6" fill="#862840" stroke="#1c0509" stroke-width="1.25"/>
<circle cx="59.43" cy="276.12" r="1.6" fill="#862840" stroke="#1c0509" stroke-width="1.25"/>
<circle cx="72.36" cy="239.35" r="1.6" fill="#862840" stroke="#1c0509" stroke-width="1.25"/>
<circle cx="72.36" cy="243.98" r="1.6" fill="#862840" stroke="#1c0509" stroke-width="1.25"/>
<circle cx="72.36" cy="261.94" r="1.6" fill="#fff" stroke="#1a1a1a" stroke-width="1.25"/>
<circle cx="69.06" cy="272.61" r="1.6" fill="#fff" stroke="#1a1a1a" stroke-width="1.25"/>
<circle cx="69.06" cy="276.12" r="1.6" fill="#fff" stroke="#1a1a1a" stroke-width="1.25"/>
<circle cx="72.36" cy="276.12" r="1.6" fill="#fff" stroke="#1a1a1a" stroke-width="1.25"/>
<circle cx="75.36" cy="276.12" r="1.6" fill="#fff" stroke="#1a1a1a" stroke-width="1.25"/>
<circle cx="85.79" cy="244.82" r="1.6" fill="#862840" stroke="#1c0509" stroke-width="1.25"/>
<circle cx="85.79" cy="258.72" r="1.6" fill="#fff" stroke="#1a1a1a" stroke-width="1.25"/>
<circle cx="85.79" cy="264.47" r="1.6" fill="#fff" stroke="#1a1a1a" stroke-width="1.25"/>
<circle cx="85.79" cy="273.17" r="1.6" fill="#fff" stroke="#1a1a1a" stroke-width="1.25"/>
<circle cx="99.22" cy="248.61" r="1.6" fill="#862840" stroke="#1c0509" stroke-width="1.25"/>
<circle cx="96.72" cy="252.96" r="1.6" fill="#fff" stroke="#1a1a1a" stroke-width="1.25"/>
<circle cx="102.42" cy="254.23" r="1.6" fill="#fff" stroke="#1a1a1a" stroke-width="1.25"/>
<circle cx="96.72" cy="257.45" r="1.6" fill="#fff" stroke="#1a1a1a" stroke-width="1.25"/>
<circle cx="102.42" cy="258.02" r="1.6" fill="#fff" stroke="#1a1a1a" stroke-width="1.25"/>
<circle cx="99.22" cy="260.68" r="1.6" fill="#fff" stroke="#1a1a1a" stroke-width="1.25"/>
<circle cx="99.22" cy="268.96" r="1.6" fill="#fff" stroke="#1a1a1a" stroke-width="1.25"/>
<circle cx="99.22" cy="280.05" r="1.6" fill="#862840" stroke="#1c0509" stroke-width="1.25"/>
<circle cx="112.65" cy="262.09" r="1.6" fill="#fff" stroke="#1a1a1a" stroke-width="1.25"/>
<circle cx="115.75" cy="276.12" r="1.6" fill="#fff" stroke="#1a1a1a" stroke-width="1.25"/>
<circle cx="109.95" cy="278.08" r="1.6" fill="#862840" stroke="#1c0509" stroke-width="1.25"/>
<circle cx="122.88" cy="261.8" r="1.6" fill="#fff" stroke="#1a1a1a" stroke-width="1.25"/>
<circle cx="129.38" cy="263.91" r="1.6" fill="#fff" stroke="#1a1a1a" stroke-width="1.25"/>
<circle cx="126.08" cy="282.71" r="1.6" fill="#862840" stroke="#1c0509" stroke-width="1.25"/>
<circle cx="139.51" cy="253.81" r="1.6" fill="#fff" stroke="#1a1a1a" stroke-width="1.25"/>
<circle cx="142.41" cy="274.72" r="1.6" fill="#fff" stroke="#1a1a1a" stroke-width="1.25"/>
<circle cx="136.61" cy="276.82" r="1.6" fill="#862840" stroke="#1c0509" stroke-width="1.25"/>
<circle cx="152.94" cy="254.51" r="1.6" fill="#862840" stroke="#1c0509" stroke-width="1.25"/>
<circle cx="152.94" cy="258.02" r="1.6" fill="#862840" stroke="#1c0509" stroke-width="1.25"/>
<circle cx="152.94" cy="272.33" r="1.6" fill="#fff" stroke="#1a1a1a" stroke-width="1.25"/>
<circle cx="152.94" cy="282.71" r="1.6" fill="#862840" stroke="#1c0509" stroke-width="1.25"/>
<text class="xl" text-anchor="end" transform="translate(48.6,293.8) rotate(-45)">+/+</text>
<text class="xl" text-anchor="end" transform="translate(62.03,293.8) rotate(-45)"><tspan font-style="italic">weh</tspan>/+</text>
<text class="xl" text-anchor="end" transform="translate(75.46,293.8) rotate(-45)"><tspan font-style="italic">weh</tspan>/<tspan font-style="italic">weh</tspan></text>
<text class="xl" text-anchor="end" transform="translate(88.89,293.8) rotate(-45)">+/+</text>
<text class="xl" text-anchor="end" transform="translate(102.32,293.8) rotate(-45)"><tspan font-style="italic">weh</tspan>/+</text>
<text class="xl" text-anchor="end" transform="translate(115.75,293.8) rotate(-45)"><tspan font-style="italic">weh</tspan>/<tspan font-style="italic">weh</tspan></text>
<text class="xl" text-anchor="end" transform="translate(129.18,293.8) rotate(-45)">+/+</text>
<text class="xl" text-anchor="end" transform="translate(142.61,293.8) rotate(-45)"><tspan font-style="italic">weh</tspan>/+</text>
<text class="xl" text-anchor="end" transform="translate(156.04,293.8) rotate(-45)"><tspan font-style="italic">weh</tspan>/<tspan font-style="italic">weh</tspan></text>
<line x1="76.8" y1="317.5" x2="112.7" y2="317.5" stroke="#151515" stroke-width="1.1"/>
<text class="gl" x="76.8" y="326.9" textLength="35.7" lengthAdjust="spacingAndGlyphs"><tspan fill="#a83558" stroke="#a83558">+</tspan><tspan fill="#c4365f" stroke="#c4365f">10uM Iron</tspan></text>
<line x1="116.9" y1="317.5" x2="152.8" y2="317.5" stroke="#151515" stroke-width="1.1"/>
<text class="gl" x="116.9" y="326.9" textLength="35.7" lengthAdjust="spacingAndGlyphs"><tspan fill="#333" stroke="#333">+</tspan><tspan fill="#56483f" stroke="#56483f">15uM Iron</tspan></text></g>
<g id="pE"><text x="187.4" y="187.5" class="let">E</text>
<text class="yl" transform="translate(194.2,241.35) rotate(-90) scale(0.72,1)" text-anchor="middle" textLength="126.81" lengthAdjust="spacing">% lcr:GFP- in sub-G0/G1 phase</text>
<rect x="216.1" y="280.36" width="9.0" height="4.54" fill="#445462"/>
<rect x="229.53" y="267.43" width="9.0" height="17.47" fill="#445462"/>
<rect x="242.96" y="275.32" width="9.0" height="9.58" fill="#445462"/>
<rect x="256.39" y="269.95" width="9.0" height="14.95" fill="#8794a0"/>
<rect x="269.82" y="261.72" width="9.0" height="23.18" fill="#8794a0"/>
<rect x="283.25" y="247.94" width="9.0" height="36.96" fill="#8794a0"/>
<rect x="296.68" y="269.78" width="9.0" height="15.12" fill="#dadee2"/>
<rect x="310.11" y="267.26" width="9.0" height="17.64" fill="#dadee2"/>
<rect x="323.54" y="271.29" width="9.0" height="13.61" fill="#dadee2"/>
<line x1="208" y1="276.84" x2="338.64" y2="276.84" stroke="#c9566c" stroke-width="0.9" stroke-dasharray="2.3 2.6"/>
<line x1="208" y1="282.38" x2="338.64" y2="282.38" stroke="#c9566c" stroke-width="0.9" stroke-dasharray="2.3 2.6"/>
<line x1="220.6" y1="280.36" x2="220.6" y2="277.34" stroke="#2c3035" stroke-width="0.9"/>
<line x1="218.4" y1="277.34" x2="222.8" y2="277.34" stroke="#2c3035" stroke-width="0.9"/>
<line x1="234.03" y1="267.43" x2="234.03" y2="256.34" stroke="#2c3035" stroke-width="0.9"/>
<line x1="231.83" y1="256.34" x2="236.23" y2="256.34" stroke="#2c3035" stroke-width="0.9"/>
<line x1="247.46" y1="275.32" x2="247.46" y2="268.1" stroke="#2c3035" stroke-width="0.9"/>
<line x1="245.26" y1="268.1" x2="249.66" y2="268.1" stroke="#2c3035" stroke-width="0.9"/>
<line x1="260.89" y1="269.95" x2="260.89" y2="255" stroke="#2c3035" stroke-width="0.9"/>
<line x1="258.69" y1="255" x2="263.09" y2="255" stroke="#2c3035" stroke-width="0.9"/>
<line x1="274.32" y1="261.72" x2="274.32" y2="227.78" stroke="#2c3035" stroke-width="0.9"/>
<line x1="272.12" y1="227.78" x2="276.52" y2="227.78" stroke="#2c3035" stroke-width="0.9"/>
<line x1="287.75" y1="281.54" x2="287.75" y2="214.34" stroke="#2c3035" stroke-width="0.9"/>
<line x1="285.55" y1="214.34" x2="289.95" y2="214.34" stroke="#2c3035" stroke-width="0.9"/>
<line x1="285.55" y1="281.54" x2="289.95" y2="281.54" stroke="#2c3035" stroke-width="0.9"/>
<line x1="301.18" y1="273.64" x2="301.18" y2="260.04" stroke="#2c3035" stroke-width="0.9"/>
<line x1="298.98" y1="260.04" x2="303.38" y2="260.04" stroke="#2c3035" stroke-width="0.9"/>
<line x1="298.98" y1="273.64" x2="303.38" y2="273.64" stroke="#2c3035" stroke-width="0.9"/>
<line x1="314.61" y1="269.78" x2="314.61" y2="263.06" stroke="#2c3035" stroke-width="0.9"/>
<line x1="312.41" y1="263.06" x2="316.81" y2="263.06" stroke="#2c3035" stroke-width="0.9"/>
<line x1="312.41" y1="269.78" x2="316.81" y2="269.78" stroke="#2c3035" stroke-width="0.9"/>
<line x1="328.04" y1="271.29" x2="328.04" y2="260.88" stroke="#2c3035" stroke-width="0.9"/>
<line x1="325.84" y1="260.88" x2="330.24" y2="260.88" stroke="#2c3035" stroke-width="0.9"/>
<line x1="211.5" y1="197.6" x2="211.5" y2="285.1" stroke="#111" stroke-width="1.2"/>
<line x1="210.9" y1="284.5" x2="336.64" y2="284.5" stroke="#111" stroke-width="1.2"/>
<line x1="208.2" y1="284.5" x2="211.5" y2="284.5" stroke="#111" stroke-width="1"/>
<text x="205" y="287.5" class="tk" text-anchor="end">0</text>
<line x1="208.2" y1="268.5" x2="211.5" y2="268.5" stroke="#111" stroke-width="1"/>
<text x="205" y="270.7" class="tk" text-anchor="end">1</text>
<line x1="208.2" y1="251.5" x2="211.5" y2="251.5" stroke="#111" stroke-width="1"/>
<text x="205" y="253.9" class="tk" text-anchor="end">2</text>
<line x1="208.2" y1="234.5" x2="211.5" y2="234.5" stroke="#111" stroke-width="1"/>
<text x="205" y="237.1" class="tk" text-anchor="end">3</text>
<line x1="208.2" y1="217.5" x2="211.5" y2="217.5" stroke="#111" stroke-width="1"/>
<text x="205" y="220.3" class="tk" text-anchor="end">4</text>
<line x1="208.2" y1="200.5" x2="211.5" y2="200.5" stroke="#111" stroke-width="1"/>
<text x="205" y="203.5" class="tk" text-anchor="end">5</text>
<line x1="220.5" y1="284.5" x2="220.5" y2="287.8" stroke="#111" stroke-width="1"/>
<line x1="234.5" y1="284.5" x2="234.5" y2="287.8" stroke="#111" stroke-width="1"/>
<line x1="247.5" y1="284.5" x2="247.5" y2="287.8" stroke="#111" stroke-width="1"/>
<line x1="260.5" y1="284.5" x2="260.5" y2="287.8" stroke="#111" stroke-width="1"/>
<line x1="274.5" y1="284.5" x2="274.5" y2="287.8" stroke="#111" stroke-width="1"/>
<line x1="287.5" y1="284.5" x2="287.5" y2="287.8" stroke="#111" stroke-width="1"/>
<line x1="301.5" y1="284.5" x2="301.5" y2="287.8" stroke="#111" stroke-width="1"/>
<line x1="314.5" y1="284.5" x2="314.5" y2="287.8" stroke="#111" stroke-width="1"/>
<line x1="328.5" y1="284.5" x2="328.5" y2="287.8" stroke="#111" stroke-width="1"/>
<circle cx="218.5" cy="276.5" r="1.6" fill="#862840" stroke="#1c0509" stroke-width="1.25"/>
<circle cx="218.5" cy="282.38" r="1.6" fill="#862840" stroke="#1c0509" stroke-width="1.25"/>
<circle cx="224" cy="279.36" r="1.6" fill="#fff" stroke="#1a1a1a" stroke-width="1.25"/>
<circle cx="234.03" cy="251.64" r="1.6" fill="#862840" stroke="#1c0509" stroke-width="1.25"/>
<circle cx="232.03" cy="266.42" r="1.6" fill="#862840" stroke="#1c0509" stroke-width="1.25"/>
<circle cx="237.43" cy="264.4" r="1.6" fill="#862840" stroke="#1c0509" stroke-width="1.25"/>
<circle cx="234.03" cy="273.14" r="1.6" fill="#862840" stroke="#1c0509" stroke-width="1.25"/>
<circle cx="234.03" cy="279.86" r="1.6" fill="#fff" stroke="#1a1a1a" stroke-width="1.25"/>
<circle cx="248.36" cy="264.74" r="1.6" fill="#862840" stroke="#1c0509" stroke-width="1.25"/>
<circle cx="251.36" cy="266.42" r="1.6" fill="#862840" stroke="#1c0509" stroke-width="1.25"/>
<circle cx="245.36" cy="269.44" r="1.6" fill="#862840" stroke="#1c0509" stroke-width="1.25"/>
<circle cx="245.36" cy="274.48" r="1.6" fill="#862840" stroke="#1c0509" stroke-width="1.25"/>
<circle cx="251.36" cy="274.48" r="1.6" fill="#862840" stroke="#1c0509" stroke-width="1.25"/>
<circle cx="247.46" cy="279.86" r="1.6" fill="#fff" stroke="#1a1a1a" stroke-width="1.25"/>
<circle cx="260.89" cy="248.61" r="1.6" fill="#862840" stroke="#1c0509" stroke-width="1.25"/>
<circle cx="260.89" cy="270.45" r="1.6" fill="#862840" stroke="#1c0509" stroke-width="1.25"/>
<circle cx="258.39" cy="279.86" r="1.6" fill="#fff" stroke="#1a1a1a" stroke-width="1.25"/>
<circle cx="264.29" cy="278.35" r="1.6" fill="#fff" stroke="#1a1a1a" stroke-width="1.25"/>
<circle cx="274.32" cy="203.92" r="1.6" fill="#862840" stroke="#1c0509" stroke-width="1.25"/>
<circle cx="274.32" cy="210.98" r="1.6" fill="#862840" stroke="#1c0509" stroke-width="1.25"/>
<circle cx="271.12" cy="276.5" r="1.6" fill="#fff" stroke="#1a1a1a" stroke-width="1.25"/>
<circle cx="277.12" cy="276.5" r="1.6" fill="#fff" stroke="#1a1a1a" stroke-width="1.25"/>
<circle cx="270.62" cy="279.86" r="1.6" fill="#862840" stroke="#1c0509" stroke-width="1.25"/>
<circle cx="277.62" cy="279.86" r="1.6" fill="#fff" stroke="#1a1a1a" stroke-width="1.25"/>
<circle cx="274.32" cy="282.38" r="1.6" fill="#862840" stroke="#1c0509" stroke-width="1.25"/>
<circle cx="287.75" cy="219.38" r="1.6" fill="#862840" stroke="#1c0509" stroke-width="1.25"/>
<circle cx="287.75" cy="237.86" r="1.6" fill="#862840" stroke="#1c0509" stroke-width="1.25"/>
<circle cx="287.75" cy="283.22" r="1.6" fill="#862840" stroke="#1c0509" stroke-width="1.25"/>
<circle cx="301.18" cy="260.04" r="1.6" fill="#862840" stroke="#1c0509" stroke-width="1.25"/>
<circle cx="301.18" cy="269.78" r="1.6" fill="#862840" stroke="#1c0509" stroke-width="1.25"/>
<circle cx="301.18" cy="273.64" r="1.6" fill="#862840" stroke="#1c0509" stroke-width="1.25"/>
<circle cx="312.11" cy="263.23" r="1.6" fill="#862840" stroke="#1c0509" stroke-width="1.25"/>
<circle cx="317.61" cy="263.23" r="1.6" fill="#862840" stroke="#1c0509" stroke-width="1.25"/>
<circle cx="314.61" cy="269.78" r="1.6" fill="#862840" stroke="#1c0509" stroke-width="1.25"/>
<circle cx="328.04" cy="260.88" r="1.6" fill="#862840" stroke="#1c0509" stroke-width="1.25"/>
<circle cx="325.14" cy="271.29" r="1.6" fill="#862840" stroke="#1c0509" stroke-width="1.25"/>
<circle cx="328.04" cy="269.78" r="1.6" fill="#862840" stroke="#1c0509" stroke-width="1.25"/>
<circle cx="330.94" cy="269.78" r="1.6" fill="#862840" stroke="#1c0509" stroke-width="1.25"/>
<text class="xl" text-anchor="end" transform="translate(223.7,293.6) rotate(-45)">+/+</text>
<text class="xl" text-anchor="end" transform="translate(237.13,293.6) rotate(-45)"><tspan font-style="italic">weh</tspan>/+</text>
<text class="xl" text-anchor="end" transform="translate(250.56,293.6) rotate(-45)"><tspan font-style="italic">weh</tspan>/<tspan font-style="italic">weh</tspan></text>
<text class="xl" text-anchor="end" transform="translate(263.99,293.6) rotate(-45)">+/+</text>
<text class="xl" text-anchor="end" transform="translate(277.42,293.6) rotate(-45)"><tspan font-style="italic">weh</tspan>/+</text>
<text class="xl" text-anchor="end" transform="translate(290.85,293.6) rotate(-45)"><tspan font-style="italic">weh</tspan>/<tspan font-style="italic">weh</tspan></text>
<text class="xl" text-anchor="end" transform="translate(304.28,293.6) rotate(-45)">+/+</text>
<text class="xl" text-anchor="end" transform="translate(317.71,293.6) rotate(-45)"><tspan font-style="italic">weh</tspan>/+</text>
<text class="xl" text-anchor="end" transform="translate(331.14,293.6) rotate(-45)"><tspan font-style="italic">weh</tspan>/<tspan font-style="italic">weh</tspan></text>
<line x1="251.9" y1="317.5" x2="287.8" y2="317.5" stroke="#151515" stroke-width="1.1"/>
<text class="gl" x="251.9" y="326.9" textLength="35.7" lengthAdjust="spacingAndGlyphs"><tspan fill="#a83558" stroke="#a83558">+</tspan><tspan fill="#c4365f" stroke="#c4365f">10uM Iron</tspan></text>
<line x1="292" y1="317.5" x2="327.9" y2="317.5" stroke="#151515" stroke-width="1.1"/>
<text class="gl" x="292" y="326.9" textLength="35.7" lengthAdjust="spacingAndGlyphs"><tspan fill="#333" stroke="#333">+</tspan><tspan fill="#56483f" stroke="#56483f">15uM Iron</tspan></text></g>
<g id="pF"><text x="354.2" y="187" class="let">F</text>
<text class="yl" transform="translate(361.5,238.1) rotate(-90) scale(0.72,1)" text-anchor="middle" textLength="110" lengthAdjust="spacing">% lcr:GFP- in G0/G1 phase</text>
<rect x="391.5" y="238.12" width="9.0" height="43.38" fill="#445462"/>
<rect x="404.93" y="236.78" width="9.0" height="44.72" fill="#445462"/>
<rect x="418.36" y="238.12" width="9.0" height="43.38" fill="#445462"/>
<rect x="431.79" y="242.91" width="9.0" height="38.59" fill="#8794a0"/>
<rect x="445.22" y="244.84" width="9.0" height="36.66" fill="#8794a0"/>
<rect x="458.65" y="243.75" width="9.0" height="37.76" fill="#8794a0"/>
<rect x="472.08" y="231.16" width="9.0" height="50.34" fill="#dadee2"/>
<rect x="485.51" y="236.45" width="9.0" height="45.05" fill="#dadee2"/>
<rect x="498.94" y="238.71" width="9.0" height="42.79" fill="#dadee2"/>
<line x1="383.4" y1="234.94" x2="514.04" y2="234.94" stroke="#c9566c" stroke-width="0.9" stroke-dasharray="2.3 2.6"/>
<line x1="383.4" y1="240.22" x2="514.04" y2="240.22" stroke="#c9566c" stroke-width="0.9" stroke-dasharray="2.3 2.6"/>
<line x1="396" y1="238.12" x2="396" y2="236.19" stroke="#2c3035" stroke-width="0.9"/>
<line x1="393.8" y1="236.19" x2="398.2" y2="236.19" stroke="#2c3035" stroke-width="0.9"/>
<line x1="409.43" y1="236.78" x2="409.43" y2="231.16" stroke="#2c3035" stroke-width="0.9"/>
<line x1="407.23" y1="231.16" x2="411.63" y2="231.16" stroke="#2c3035" stroke-width="0.9"/>
<line x1="422.86" y1="238.12" x2="422.86" y2="226.46" stroke="#2c3035" stroke-width="0.9"/>
<line x1="420.66" y1="226.46" x2="425.06" y2="226.46" stroke="#2c3035" stroke-width="0.9"/>
<line x1="436.29" y1="242.91" x2="436.29" y2="239.55" stroke="#2c3035" stroke-width="0.9"/>
<line x1="434.09" y1="239.55" x2="438.49" y2="239.55" stroke="#2c3035" stroke-width="0.9"/>
<line x1="449.72" y1="244.84" x2="449.72" y2="237.87" stroke="#2c3035" stroke-width="0.9"/>
<line x1="447.52" y1="237.87" x2="451.92" y2="237.87" stroke="#2c3035" stroke-width="0.9"/>
<line x1="463.15" y1="243.75" x2="463.15" y2="238.71" stroke="#2c3035" stroke-width="0.9"/>
<line x1="460.95" y1="238.71" x2="465.35" y2="238.71" stroke="#2c3035" stroke-width="0.9"/>
<line x1="476.58" y1="231.16" x2="476.58" y2="222.6" stroke="#2c3035" stroke-width="0.9"/>
<line x1="474.38" y1="222.6" x2="478.78" y2="222.6" stroke="#2c3035" stroke-width="0.9"/>
<line x1="490.01" y1="236.45" x2="490.01" y2="232.84" stroke="#2c3035" stroke-width="0.9"/>
<line x1="487.81" y1="232.84" x2="492.21" y2="232.84" stroke="#2c3035" stroke-width="0.9"/>
<line x1="503.44" y1="243.75" x2="503.44" y2="229.48" stroke="#2c3035" stroke-width="0.9"/>
<line x1="501.24" y1="229.48" x2="505.64" y2="229.48" stroke="#2c3035" stroke-width="0.9"/>
<line x1="501.24" y1="243.75" x2="505.64" y2="243.75" stroke="#2c3035" stroke-width="0.9"/>
<line x1="386.5" y1="194.3" x2="386.5" y2="282.1" stroke="#111" stroke-width="1.2"/>
<line x1="385.9" y1="281.5" x2="512.04" y2="281.5" stroke="#111" stroke-width="1.2"/>
<line x1="383.2" y1="281.5" x2="386.5" y2="281.5" stroke="#111" stroke-width="1"/>
<text x="380.4" y="284.1" class="tk" text-anchor="end">0</text>
<line x1="383.2" y1="264.5" x2="386.5" y2="264.5" stroke="#111" stroke-width="1"/>
<text x="380.4" y="267.32" class="tk" text-anchor="end">20</text>
<line x1="383.2" y1="247.5" x2="386.5" y2="247.5" stroke="#111" stroke-width="1"/>
<text x="380.4" y="250.54" class="tk" text-anchor="end">40</text>
<line x1="383.2" y1="231.5" x2="386.5" y2="231.5" stroke="#111" stroke-width="1"/>
<text x="380.4" y="233.76" class="tk" text-anchor="end">60</text>
<line x1="383.2" y1="214.5" x2="386.5" y2="214.5" stroke="#111" stroke-width="1"/>
<text x="380.4" y="216.98" class="tk" text-anchor="end">80</text>
<line x1="383.2" y1="197.5" x2="386.5" y2="197.5" stroke="#111" stroke-width="1"/>
<text x="380.4" y="200.2" class="tk" text-anchor="end">100</text>
<line x1="396.5" y1="281.5" x2="396.5" y2="284.8" stroke="#111" stroke-width="1"/>
<line x1="409.5" y1="281.5" x2="409.5" y2="284.8" stroke="#111" stroke-width="1"/>
<line x1="422.5" y1="281.5" x2="422.5" y2="284.8" stroke="#111" stroke-width="1"/>
<line x1="436.5" y1="281.5" x2="436.5" y2="284.8" stroke="#111" stroke-width="1"/>
<line x1="449.5" y1="281.5" x2="449.5" y2="284.8" stroke="#111" stroke-width="1"/>
<line x1="463.5" y1="281.5" x2="463.5" y2="284.8" stroke="#111" stroke-width="1"/>
<line x1="476.5" y1="281.5" x2="476.5" y2="284.8" stroke="#111" stroke-width="1"/>
<line x1="490.5" y1="281.5" x2="490.5" y2="284.8" stroke="#111" stroke-width="1"/>
<line x1="503.5" y1="281.5" x2="503.5" y2="284.8" stroke="#111" stroke-width="1"/>
<circle cx="396" cy="234.77" r="1.6" fill="#862840" stroke="#1c0509" stroke-width="1.25"/>
<circle cx="392.6" cy="239.89" r="1.6" fill="#fff" stroke="#1a1a1a" stroke-width="1.25"/>
<circle cx="396" cy="239.89" r="1.6" fill="#fff" stroke="#1a1a1a" stroke-width="1.25"/>
<circle cx="398.7" cy="239.89" r="1.6" fill="#fff" stroke="#1a1a1a" stroke-width="1.25"/>
<circle cx="409.43" cy="225.04" r="1.6" fill="#862840" stroke="#1c0509" stroke-width="1.25"/>
<circle cx="406.43" cy="233.43" r="1.6" fill="#862840" stroke="#1c0509" stroke-width="1.25"/>
<circle cx="412.23" cy="232.08" r="1.6" fill="#862840" stroke="#1c0509" stroke-width="1.25"/>
<circle cx="409.43" cy="238.71" r="1.6" fill="#fff" stroke="#1a1a1a" stroke-width="1.25"/>
<circle cx="409.43" cy="248.86" r="1.6" fill="#862840" stroke="#1c0509" stroke-width="1.25"/>
<circle cx="422.86" cy="215.72" r="1.6" fill="#862840" stroke="#1c0509" stroke-width="1.25"/>
<circle cx="419.96" cy="234.52" r="1.6" fill="#862840" stroke="#1c0509" stroke-width="1.25"/>
<circle cx="425.36" cy="234.52" r="1.6" fill="#862840" stroke="#1c0509" stroke-width="1.25"/>
<circle cx="422.86" cy="237.45" r="1.6" fill="#fff" stroke="#1a1a1a" stroke-width="1.25"/>
<circle cx="419.66" cy="247.52" r="1.6" fill="#862840" stroke="#1c0509" stroke-width="1.25"/>
<circle cx="422.86" cy="245.76" r="1.6" fill="#862840" stroke="#1c0509" stroke-width="1.25"/>
<circle cx="425.36" cy="246.85" r="1.6" fill="#862840" stroke="#1c0509" stroke-width="1.25"/>
<circle cx="432.79" cy="238.71" r="1.6" fill="#fff" stroke="#1a1a1a" stroke-width="1.25"/>
<circle cx="436.29" cy="238.71" r="1.6" fill="#fff" stroke="#1a1a1a" stroke-width="1.25"/>
<circle cx="439.49" cy="238.71" r="1.6" fill="#fff" stroke="#1a1a1a" stroke-width="1.25"/>
<circle cx="436.29" cy="241.48" r="1.6" fill="#862840" stroke="#1c0509" stroke-width="1.25"/>
<circle cx="436.29" cy="246.85" r="1.6" fill="#862840" stroke="#1c0509" stroke-width="1.25"/>
<circle cx="445.52" cy="236.78" r="1.6" fill="#fff" stroke="#1a1a1a" stroke-width="1.25"/>
<circle cx="449.72" cy="236.78" r="1.6" fill="#fff" stroke="#1a1a1a" stroke-width="1.25"/>
<circle cx="453.92" cy="236.78" r="1.6" fill="#fff" stroke="#1a1a1a" stroke-width="1.25"/>
<circle cx="449.72" cy="241.23" r="1.6" fill="#862840" stroke="#1c0509" stroke-width="1.25"/>
<circle cx="446.22" cy="245.26" r="1.6" fill="#862840" stroke="#1c0509" stroke-width="1.25"/>
<circle cx="451.62" cy="248.28" r="1.6" fill="#862840" stroke="#1c0509" stroke-width="1.25"/>
<circle cx="449.72" cy="257.67" r="1.6" fill="#862840" stroke="#1c0509" stroke-width="1.25"/>
<circle cx="463.15" cy="237.54" r="1.6" fill="#fff" stroke="#1a1a1a" stroke-width="1.25"/>
<circle cx="463.15" cy="243.07" r="1.6" fill="#862840" stroke="#1c0509" stroke-width="1.25"/>
<circle cx="463.15" cy="247.44" r="1.6" fill="#862840" stroke="#1c0509" stroke-width="1.25"/>
<circle cx="473.58" cy="224.87" r="1.6" fill="#862840" stroke="#1c0509" stroke-width="1.25"/>
<circle cx="479.68" cy="226.13" r="1.6" fill="#862840" stroke="#1c0509" stroke-width="1.25"/>
<circle cx="476.58" cy="237.87" r="1.6" fill="#fff" stroke="#1a1a1a" stroke-width="1.25"/>
<circle cx="486.71" cy="232" r="1.6" fill="#862840" stroke="#1c0509" stroke-width="1.25"/>
<circle cx="492.91" cy="234.94" r="1.6" fill="#862840" stroke="#1c0509" stroke-width="1.25"/>
<circle cx="490.01" cy="239.72" r="1.6" fill="#fff" stroke="#1a1a1a" stroke-width="1.25"/>
<circle cx="503.44" cy="227.22" r="1.6" fill="#862840" stroke="#1c0509" stroke-width="1.25"/>
<circle cx="503.44" cy="231.66" r="1.6" fill="#862840" stroke="#1c0509" stroke-width="1.25"/>
<circle cx="503.44" cy="243.07" r="1.6" fill="#862840" stroke="#1c0509" stroke-width="1.25"/>
<circle cx="503.44" cy="247.44" r="1.6" fill="#862840" stroke="#1c0509" stroke-width="1.25"/>
<text class="xl" text-anchor="end" transform="translate(399.1,290.2) rotate(-45)">+/+</text>
<text class="xl" text-anchor="end" transform="translate(412.53,290.2) rotate(-45)"><tspan font-style="italic">weh</tspan>/+</text>
<text class="xl" text-anchor="end" transform="translate(425.96,290.2) rotate(-45)"><tspan font-style="italic">weh</tspan>/<tspan font-style="italic">weh</tspan></text>
<text class="xl" text-anchor="end" transform="translate(439.39,290.2) rotate(-45)">+/+</text>
<text class="xl" text-anchor="end" transform="translate(452.82,290.2) rotate(-45)"><tspan font-style="italic">weh</tspan>/+</text>
<text class="xl" text-anchor="end" transform="translate(466.25,290.2) rotate(-45)"><tspan font-style="italic">weh</tspan>/<tspan font-style="italic">weh</tspan></text>
<text class="xl" text-anchor="end" transform="translate(479.68,290.2) rotate(-45)">+/+</text>
<text class="xl" text-anchor="end" transform="translate(493.11,290.2) rotate(-45)"><tspan font-style="italic">weh</tspan>/+</text>
<text class="xl" text-anchor="end" transform="translate(506.54,290.2) rotate(-45)"><tspan font-style="italic">weh</tspan>/<tspan font-style="italic">weh</tspan></text>
<line x1="427.3" y1="313.5" x2="463.2" y2="313.5" stroke="#151515" stroke-width="1.1"/>
<text class="gl" x="427.3" y="322.9" textLength="35.7" lengthAdjust="spacingAndGlyphs"><tspan fill="#a83558" stroke="#a83558">+</tspan><tspan fill="#c4365f" stroke="#c4365f">10uM Iron</tspan></text>
<line x1="467.4" y1="313.5" x2="503.3" y2="313.5" stroke="#151515" stroke-width="1.1"/>
<text class="gl" x="467.4" y="322.9" textLength="35.7" lengthAdjust="spacingAndGlyphs"><tspan fill="#333" stroke="#333">+</tspan><tspan fill="#56483f" stroke="#56483f">15uM Iron</tspan></text></g>
<g id="pG"><text x="7.4" y="355.8" class="let">G</text>
<text class="yl" transform="translate(15.5,407.3) rotate(-90) scale(0.72,1)" text-anchor="middle" textLength="88.89" lengthAdjust="spacing">% lcr:GFP- in S phase</text>
<rect x="41" y="441.56" width="9.0" height="9.13" fill="#445462"/>
<rect x="54.43" y="442.09" width="9.0" height="8.61" fill="#445462"/>
<rect x="67.86" y="441.25" width="9.0" height="9.45" fill="#445462"/>
<rect x="81.29" y="425.81" width="9.0" height="24.89" fill="#8794a0"/>
<rect x="94.72" y="420.67" width="9.0" height="30.03" fill="#8794a0"/>
<rect x="108.15" y="416.26" width="9.0" height="34.44" fill="#8794a0"/>
<rect x="121.58" y="446.5" width="9.0" height="4.2" fill="#eceef0"/>
<rect x="135.01" y="444.4" width="9.0" height="6.3" fill="#eceef0"/>
<rect x="148.44" y="441.25" width="9.0" height="9.45" fill="#eceef0"/>
<line x1="32.9" y1="437.26" x2="163.54" y2="437.26" stroke="#c9566c" stroke-width="0.9" stroke-dasharray="2.3 2.6"/>
<line x1="32.9" y1="443.03" x2="163.54" y2="443.03" stroke="#c9566c" stroke-width="0.9" stroke-dasharray="2.3 2.6"/>
<line x1="45.5" y1="441.56" x2="45.5" y2="437.78" stroke="#2c3035" stroke-width="0.9"/>
<line x1="43.3" y1="437.78" x2="47.7" y2="437.78" stroke="#2c3035" stroke-width="0.9"/>
<line x1="58.93" y1="442.09" x2="58.93" y2="437.05" stroke="#2c3035" stroke-width="0.9"/>
<line x1="56.73" y1="437.05" x2="61.13" y2="437.05" stroke="#2c3035" stroke-width="0.9"/>
<line x1="72.36" y1="441.25" x2="72.36" y2="436.31" stroke="#2c3035" stroke-width="0.9"/>
<line x1="70.16" y1="436.31" x2="74.56" y2="436.31" stroke="#2c3035" stroke-width="0.9"/>
<line x1="85.79" y1="425.81" x2="85.79" y2="416.05" stroke="#2c3035" stroke-width="0.9"/>
<line x1="83.59" y1="416.05" x2="87.99" y2="416.05" stroke="#2c3035" stroke-width="0.9"/>
<line x1="99.22" y1="420.67" x2="99.22" y2="406.18" stroke="#2c3035" stroke-width="0.9"/>
<line x1="97.02" y1="406.18" x2="101.42" y2="406.18" stroke="#2c3035" stroke-width="0.9"/>
<line x1="112.65" y1="425.5" x2="112.65" y2="404.19" stroke="#2c3035" stroke-width="0.9"/>
<line x1="110.45" y1="404.19" x2="114.85" y2="404.19" stroke="#2c3035" stroke-width="0.9"/>
<line x1="110.45" y1="425.5" x2="114.85" y2="425.5" stroke="#2c3035" stroke-width="0.9"/>
<line x1="126.08" y1="446.5" x2="126.08" y2="442.3" stroke="#2c3035" stroke-width="0.9"/>
<line x1="123.88" y1="442.3" x2="128.28" y2="442.3" stroke="#2c3035" stroke-width="0.9"/>
<line x1="139.51" y1="444.4" x2="139.51" y2="435.69" stroke="#2c3035" stroke-width="0.9"/>
<line x1="137.31" y1="435.69" x2="141.71" y2="435.69" stroke="#2c3035" stroke-width="0.9"/>
<line x1="152.94" y1="444.4" x2="152.94" y2="430.75" stroke="#2c3035" stroke-width="0.9"/>
<line x1="150.74" y1="430.75" x2="155.14" y2="430.75" stroke="#2c3035" stroke-width="0.9"/>
<line x1="150.74" y1="444.4" x2="155.14" y2="444.4" stroke="#2c3035" stroke-width="0.9"/>
<line x1="36.5" y1="363.4" x2="36.5" y2="451.1" stroke="#111" stroke-width="1.2"/>
<line x1="35.9" y1="450.5" x2="161.54" y2="450.5" stroke="#111" stroke-width="1.2"/>
<line x1="33.2" y1="450.5" x2="36.5" y2="450.5" stroke="#111" stroke-width="1"/>
<text x="29.9" y="453.3" class="tk" text-anchor="end">0</text>
<line x1="33.2" y1="429.5" x2="36.5" y2="429.5" stroke="#111" stroke-width="1"/>
<text x="29.9" y="432.3" class="tk" text-anchor="end">20</text>
<line x1="33.2" y1="408.5" x2="36.5" y2="408.5" stroke="#111" stroke-width="1"/>
<text x="29.9" y="411.3" class="tk" text-anchor="end">40</text>
<line x1="33.2" y1="387.5" x2="36.5" y2="387.5" stroke="#111" stroke-width="1"/>
<text x="29.9" y="390.3" class="tk" text-anchor="end">60</text>
<line x1="33.2" y1="366.5" x2="36.5" y2="366.5" stroke="#111" stroke-width="1"/>
<text x="29.9" y="369.3" class="tk" text-anchor="end">80</text>
<line x1="45.5" y1="450.5" x2="45.5" y2="453.8" stroke="#111" stroke-width="1"/>
<line x1="58.5" y1="450.5" x2="58.5" y2="453.8" stroke="#111" stroke-width="1"/>
<line x1="72.5" y1="450.5" x2="72.5" y2="453.8" stroke="#111" stroke-width="1"/>
<line x1="85.5" y1="450.5" x2="85.5" y2="453.8" stroke="#111" stroke-width="1"/>
<line x1="99.5" y1="450.5" x2="99.5" y2="453.8" stroke="#111" stroke-width="1"/>
<line x1="112.5" y1="450.5" x2="112.5" y2="453.8" stroke="#111" stroke-width="1"/>
<line x1="126.5" y1="450.5" x2="126.5" y2="453.8" stroke="#111" stroke-width="1"/>
<line x1="139.5" y1="450.5" x2="139.5" y2="453.8" stroke="#111" stroke-width="1"/>
<line x1="152.5" y1="450.5" x2="152.5" y2="453.8" stroke="#111" stroke-width="1"/>
<circle cx="43.1" cy="437.78" r="1.6" fill="#fff" stroke="#1a1a1a" stroke-width="1.25"/>
<circle cx="48.3" cy="437.78" r="1.6" fill="#fff" stroke="#1a1a1a" stroke-width="1.25"/>
<circle cx="45.8" cy="444.71" r="1.6" fill="#862840" stroke="#1c0509" stroke-width="1.25"/>
<circle cx="56.63" cy="434.53" r="1.6" fill="#862840" stroke="#1c0509" stroke-width="1.25"/>
<circle cx="62.23" cy="437.47" r="1.6" fill="#fff" stroke="#1a1a1a" stroke-width="1.25"/>
<circle cx="56.63" cy="440.51" r="1.6" fill="#fff" stroke="#1a1a1a" stroke-width="1.25"/>
<circle cx="56.63" cy="446.19" r="1.6" fill="#862840" stroke="#1c0509" stroke-width="1.25"/>
<circle cx="59.43" cy="446.19" r="1.6" fill="#862840" stroke="#1c0509" stroke-width="1.25"/>
<circle cx="62.23" cy="446.19" r="1.6" fill="#fff" stroke="#1a1a1a" stroke-width="1.25"/>
<circle cx="69.76" cy="434" r="1.6" fill="#862840" stroke="#1c0509" stroke-width="1.25"/>
<circle cx="73.56" cy="435.16" r="1.6" fill="#862840" stroke="#1c0509" stroke-width="1.25"/>
<circle cx="76.06" cy="436.31" r="1.6" fill="#862840" stroke="#1c0509" stroke-width="1.25"/>
<circle cx="69.76" cy="438.62" r="1.6" fill="#fff" stroke="#1a1a1a" stroke-width="1.25"/>
<circle cx="76.06" cy="442.09" r="1.6" fill="#fff" stroke="#1a1a1a" stroke-width="1.25"/>
<circle cx="69.76" cy="443.88" r="1.6" fill="#862840" stroke="#1c0509" stroke-width="1.25"/>
<circle cx="72.86" cy="440.72" r="1.6" fill="#fff" stroke="#1a1a1a" stroke-width="1.25"/>
<circle cx="85.79" cy="415.74" r="1.6" fill="#862840" stroke="#1c0509" stroke-width="1.25"/>
<circle cx="85.79" cy="422.14" r="1.6" fill="#862840" stroke="#1c0509" stroke-width="1.25"/>
<circle cx="85.79" cy="427.39" r="1.6" fill="#862840" stroke="#1c0509" stroke-width="1.25"/>
<circle cx="85.79" cy="434.32" r="1.6" fill="#862840" stroke="#1c0509" stroke-width="1.25"/>
<circle cx="99.22" cy="389.27" r="1.6" fill="#862840" stroke="#1c0509" stroke-width="1.25"/>
<circle cx="95.82" cy="420.25" r="1.6" fill="#862840" stroke="#1c0509" stroke-width="1.25"/>
<circle cx="99.22" cy="418.68" r="1.6" fill="#862840" stroke="#1c0509" stroke-width="1.25"/>
<circle cx="102.62" cy="420.25" r="1.6" fill="#862840" stroke="#1c0509" stroke-width="1.25"/>
<circle cx="96.32" cy="423.93" r="1.6" fill="#862840" stroke="#1c0509" stroke-width="1.25"/>
<circle cx="102.12" cy="423.93" r="1.6" fill="#862840" stroke="#1c0509" stroke-width="1.25"/>
<circle cx="99.22" cy="428.02" r="1.6" fill="#862840" stroke="#1c0509" stroke-width="1.25"/>
<circle cx="112.65" cy="404.19" r="1.6" fill="#862840" stroke="#1c0509" stroke-width="1.25"/>
<circle cx="109.65" cy="420.99" r="1.6" fill="#862840" stroke="#1c0509" stroke-width="1.25"/>
<circle cx="115.65" cy="420.99" r="1.6" fill="#862840" stroke="#1c0509" stroke-width="1.25"/>
<circle cx="123.78" cy="442.3" r="1.6" fill="#fff" stroke="#1a1a1a" stroke-width="1.25"/>
<circle cx="128.58" cy="442.82" r="1.6" fill="#fff" stroke="#1a1a1a" stroke-width="1.25"/>
<circle cx="123.78" cy="445.76" r="1.6" fill="#862840" stroke="#1c0509" stroke-width="1.25"/>
<circle cx="139.51" cy="435.69" r="1.6" fill="#862840" stroke="#1c0509" stroke-width="1.25"/>
<circle cx="142.41" cy="442.3" r="1.6" fill="#fff" stroke="#1a1a1a" stroke-width="1.25"/>
<circle cx="136.71" cy="443.88" r="1.6" fill="#862840" stroke="#1c0509" stroke-width="1.25"/>
<circle cx="150.74" cy="431.8" r="1.6" fill="#862840" stroke="#1c0509" stroke-width="1.25"/>
<circle cx="156.54" cy="430.75" r="1.6" fill="#862840" stroke="#1c0509" stroke-width="1.25"/>
<circle cx="150.74" cy="445.76" r="1.6" fill="#862840" stroke="#1c0509" stroke-width="1.25"/>
<circle cx="156.54" cy="443.88" r="1.6" fill="#862840" stroke="#1c0509" stroke-width="1.25"/>
<text class="xl" text-anchor="end" transform="translate(48.6,459.4) rotate(-45)">+/+</text>
<text class="xl" text-anchor="end" transform="translate(62.03,459.4) rotate(-45)"><tspan font-style="italic">weh</tspan>/+</text>
<text class="xl" text-anchor="end" transform="translate(75.46,459.4) rotate(-45)"><tspan font-style="italic">weh</tspan>/<tspan font-style="italic">weh</tspan></text>
<text class="xl" text-anchor="end" transform="translate(88.89,459.4) rotate(-45)">+/+</text>
<text class="xl" text-anchor="end" transform="translate(102.32,459.4) rotate(-45)"><tspan font-style="italic">weh</tspan>/+</text>
<text class="xl" text-anchor="end" transform="translate(115.75,459.4) rotate(-45)"><tspan font-style="italic">weh</tspan>/<tspan font-style="italic">weh</tspan></text>
<text class="xl" text-anchor="end" transform="translate(129.18,459.4) rotate(-45)">+/+</text>
<text class="xl" text-anchor="end" transform="translate(142.61,459.4) rotate(-45)"><tspan font-style="italic">weh</tspan>/+</text>
<text class="xl" text-anchor="end" transform="translate(156.04,459.4) rotate(-45)"><tspan font-style="italic">weh</tspan>/<tspan font-style="italic">weh</tspan></text>
<line x1="76.8" y1="483.5" x2="112.7" y2="483.5" stroke="#151515" stroke-width="1.1"/>
<text class="gl" x="76.8" y="492.9" textLength="35.7" lengthAdjust="spacingAndGlyphs"><tspan fill="#a83558" stroke="#a83558">+</tspan><tspan fill="#c4365f" stroke="#c4365f">10uM Iron</tspan></text>
<line x1="116.9" y1="483.5" x2="152.8" y2="483.5" stroke="#151515" stroke-width="1.1"/>
<text class="gl" x="116.9" y="492.9" textLength="35.7" lengthAdjust="spacingAndGlyphs"><tspan fill="#333" stroke="#333">+</tspan><tspan fill="#56483f" stroke="#56483f">15uM Iron</tspan></text></g>
<g id="pH"><text x="183" y="356" class="let">H</text>
<text class="yl" transform="translate(190.6,407.3) rotate(-90) scale(0.72,1)" text-anchor="middle" textLength="106.67" lengthAdjust="spacing">% lcr:GFP- in G2/M phase</text>
<rect x="216.1" y="397.44" width="9.0" height="53.56" fill="#445462"/>
<rect x="229.53" y="420.24" width="9.0" height="30.76" fill="#445462"/>
<rect x="242.96" y="404.58" width="9.0" height="46.42" fill="#445462"/>
<rect x="256.39" y="414.92" width="9.0" height="36.08" fill="#8794a0"/>
<rect x="269.82" y="418" width="9.0" height="33" fill="#8794a0"/>
<rect x="283.25" y="426.39" width="9.0" height="24.61" fill="#8794a0"/>
<rect x="296.68" y="424.01" width="9.0" height="26.99" fill="#dadee2"/>
<rect x="310.11" y="412.13" width="9.0" height="38.87" fill="#dadee2"/>
<rect x="323.54" y="413.94" width="9.0" height="37.06" fill="#dadee2"/>
<line x1="208" y1="398.14" x2="338.64" y2="398.14" stroke="#c23c58" stroke-width="1.2" stroke-dasharray="2.3 2.6"/>
<line x1="220.6" y1="397.44" x2="220.6" y2="396.74" stroke="#2c3035" stroke-width="0.9"/>
<line x1="218.4" y1="396.74" x2="222.8" y2="396.74" stroke="#2c3035" stroke-width="0.9"/>
<line x1="234.03" y1="437.02" x2="234.03" y2="395.63" stroke="#2c3035" stroke-width="0.9"/>
<line x1="231.83" y1="395.63" x2="236.23" y2="395.63" stroke="#2c3035" stroke-width="0.9"/>
<line x1="231.83" y1="437.02" x2="236.23" y2="437.02" stroke="#2c3035" stroke-width="0.9"/>
<line x1="247.46" y1="423.03" x2="247.46" y2="381.78" stroke="#2c3035" stroke-width="0.9"/>
<line x1="245.26" y1="381.78" x2="249.66" y2="381.78" stroke="#2c3035" stroke-width="0.9"/>
<line x1="245.26" y1="423.03" x2="249.66" y2="423.03" stroke="#2c3035" stroke-width="0.9"/>
<line x1="260.89" y1="423.03" x2="260.89" y2="407.65" stroke="#2c3035" stroke-width="0.9"/>
<line x1="258.69" y1="407.65" x2="263.09" y2="407.65" stroke="#2c3035" stroke-width="0.9"/>
<line x1="258.69" y1="423.03" x2="263.09" y2="423.03" stroke="#2c3035" stroke-width="0.9"/>
<line x1="274.32" y1="427.23" x2="274.32" y2="407.65" stroke="#2c3035" stroke-width="0.9"/>
<line x1="272.12" y1="407.65" x2="276.52" y2="407.65" stroke="#2c3035" stroke-width="0.9"/>
<line x1="272.12" y1="427.23" x2="276.52" y2="427.23" stroke="#2c3035" stroke-width="0.9"/>
<line x1="287.75" y1="432.82" x2="287.75" y2="420.24" stroke="#2c3035" stroke-width="0.9"/>
<line x1="285.55" y1="420.24" x2="289.95" y2="420.24" stroke="#2c3035" stroke-width="0.9"/>
<line x1="285.55" y1="432.82" x2="289.95" y2="432.82" stroke="#2c3035" stroke-width="0.9"/>
<line x1="301.18" y1="445.41" x2="301.18" y2="399.26" stroke="#2c3035" stroke-width="0.9"/>
<line x1="298.98" y1="399.26" x2="303.38" y2="399.26" stroke="#2c3035" stroke-width="0.9"/>
<line x1="298.98" y1="445.41" x2="303.38" y2="445.41" stroke="#2c3035" stroke-width="0.9"/>
<line x1="314.61" y1="430.02" x2="314.61" y2="391.57" stroke="#2c3035" stroke-width="0.9"/>
<line x1="312.41" y1="391.57" x2="316.81" y2="391.57" stroke="#2c3035" stroke-width="0.9"/>
<line x1="312.41" y1="430.02" x2="316.81" y2="430.02" stroke="#2c3035" stroke-width="0.9"/>
<line x1="328.04" y1="440.51" x2="328.04" y2="386.12" stroke="#2c3035" stroke-width="0.9"/>
<line x1="325.84" y1="386.12" x2="330.24" y2="386.12" stroke="#2c3035" stroke-width="0.9"/>
<line x1="325.84" y1="440.51" x2="330.24" y2="440.51" stroke="#2c3035" stroke-width="0.9"/>
<line x1="211.5" y1="363.8" x2="211.5" y2="451.1" stroke="#111" stroke-width="1.2"/>
<line x1="210.9" y1="450.5" x2="336.64" y2="450.5" stroke="#111" stroke-width="1.2"/>
<line x1="208.2" y1="450.5" x2="211.5" y2="450.5" stroke="#111" stroke-width="1"/>
<text x="205" y="453.6" class="tk" text-anchor="end">0</text>
<line x1="208.2" y1="423.5" x2="211.5" y2="423.5" stroke="#111" stroke-width="1"/>
<text x="205" y="425.63" class="tk" text-anchor="end">20</text>
<line x1="208.2" y1="395.5" x2="211.5" y2="395.5" stroke="#111" stroke-width="1"/>
<text x="205" y="397.67" class="tk" text-anchor="end">40</text>
<line x1="208.2" y1="367.5" x2="211.5" y2="367.5" stroke="#111" stroke-width="1"/>
<text x="205" y="369.7" class="tk" text-anchor="end">60</text>
<line x1="220.5" y1="450.5" x2="220.5" y2="453.8" stroke="#111" stroke-width="1"/>
<line x1="234.5" y1="450.5" x2="234.5" y2="453.8" stroke="#111" stroke-width="1"/>
<line x1="247.5" y1="450.5" x2="247.5" y2="453.8" stroke="#111" stroke-width="1"/>
<line x1="260.5" y1="450.5" x2="260.5" y2="453.8" stroke="#111" stroke-width="1"/>
<line x1="274.5" y1="450.5" x2="274.5" y2="453.8" stroke="#111" stroke-width="1"/>
<line x1="287.5" y1="450.5" x2="287.5" y2="453.8" stroke="#111" stroke-width="1"/>
<line x1="301.5" y1="450.5" x2="301.5" y2="453.8" stroke="#111" stroke-width="1"/>
<line x1="314.5" y1="450.5" x2="314.5" y2="453.8" stroke="#111" stroke-width="1"/>
<line x1="328.5" y1="450.5" x2="328.5" y2="453.8" stroke="#111" stroke-width="1"/>
<circle cx="218.1" cy="398.84" r="1.6" fill="#862840" stroke="#1c0509" stroke-width="1.25"/>
<circle cx="220.9" cy="397.72" r="1.6" fill="#862840" stroke="#1c0509" stroke-width="1.25"/>
<circle cx="223.4" cy="397.44" r="1.6" fill="#fff" stroke="#1a1a1a" stroke-width="1.25"/>
<circle cx="234.03" cy="379.82" r="1.6" fill="#862840" stroke="#1c0509" stroke-width="1.25"/>
<circle cx="234.03" cy="419.12" r="1.6" fill="#862840" stroke="#1c0509" stroke-width="1.25"/>
<circle cx="234.03" cy="424.85" r="1.6" fill="#862840" stroke="#1c0509" stroke-width="1.25"/>
<circle cx="231.83" cy="435.9" r="1.6" fill="#862840" stroke="#1c0509" stroke-width="1.25"/>
<circle cx="237.53" cy="433.52" r="1.6" fill="#862840" stroke="#1c0509" stroke-width="1.25"/>
<circle cx="247.86" cy="377.87" r="1.6" fill="#862840" stroke="#1c0509" stroke-width="1.25"/>
<circle cx="244.96" cy="385.56" r="1.6" fill="#862840" stroke="#1c0509" stroke-width="1.25"/>
<circle cx="250.66" cy="383.04" r="1.6" fill="#862840" stroke="#1c0509" stroke-width="1.25"/>
<circle cx="247.46" cy="406.39" r="1.6" fill="#862840" stroke="#1c0509" stroke-width="1.25"/>
<circle cx="247.46" cy="410.73" r="1.6" fill="#862840" stroke="#1c0509" stroke-width="1.25"/>
<circle cx="244.96" cy="428.63" r="1.6" fill="#862840" stroke="#1c0509" stroke-width="1.25"/>
<circle cx="250.66" cy="427.93" r="1.6" fill="#862840" stroke="#1c0509" stroke-width="1.25"/>
<circle cx="260.89" cy="400.66" r="1.6" fill="#862840" stroke="#1c0509" stroke-width="1.25"/>
<circle cx="260.89" cy="408.35" r="1.6" fill="#862840" stroke="#1c0509" stroke-width="1.25"/>
<circle cx="258.79" cy="425.41" r="1.6" fill="#862840" stroke="#1c0509" stroke-width="1.25"/>
<circle cx="263.89" cy="422.19" r="1.6" fill="#862840" stroke="#1c0509" stroke-width="1.25"/>
<circle cx="272.52" cy="408.07" r="1.6" fill="#862840" stroke="#1c0509" stroke-width="1.25"/>
<circle cx="277.92" cy="406.95" r="1.6" fill="#862840" stroke="#1c0509" stroke-width="1.25"/>
<circle cx="277.92" cy="413.52" r="1.6" fill="#862840" stroke="#1c0509" stroke-width="1.25"/>
<circle cx="272.52" cy="416.74" r="1.6" fill="#862840" stroke="#1c0509" stroke-width="1.25"/>
<circle cx="277.92" cy="419.12" r="1.6" fill="#862840" stroke="#1c0509" stroke-width="1.25"/>
<circle cx="274.32" cy="430.86" r="1.6" fill="#862840" stroke="#1c0509" stroke-width="1.25"/>
<circle cx="274.32" cy="439.11" r="1.6" fill="#862840" stroke="#1c0509" stroke-width="1.25"/>
<circle cx="287.75" cy="419.12" r="1.6" fill="#862840" stroke="#1c0509" stroke-width="1.25"/>
<circle cx="287.75" cy="423.03" r="1.6" fill="#862840" stroke="#1c0509" stroke-width="1.25"/>
<circle cx="287.75" cy="434.22" r="1.6" fill="#862840" stroke="#1c0509" stroke-width="1.25"/>
<circle cx="301.18" cy="397.44" r="1.6" fill="#862840" stroke="#1c0509" stroke-width="1.25"/>
<circle cx="301.18" cy="434.5" r="1.6" fill="#862840" stroke="#1c0509" stroke-width="1.25"/>
<circle cx="301.18" cy="438.69" r="1.6" fill="#862840" stroke="#1c0509" stroke-width="1.25"/>
<circle cx="314.61" cy="391.57" r="1.6" fill="#862840" stroke="#1c0509" stroke-width="1.25"/>
<circle cx="314.61" cy="411.15" r="1.6" fill="#862840" stroke="#1c0509" stroke-width="1.25"/>
<circle cx="314.61" cy="430.02" r="1.6" fill="#862840" stroke="#1c0509" stroke-width="1.25"/>
<circle cx="328.04" cy="386.12" r="1.6" fill="#862840" stroke="#1c0509" stroke-width="1.25"/>
<circle cx="328.04" cy="394.09" r="1.6" fill="#862840" stroke="#1c0509" stroke-width="1.25"/>
<circle cx="328.04" cy="433.8" r="1.6" fill="#862840" stroke="#1c0509" stroke-width="1.25"/>
<circle cx="328.04" cy="440.51" r="1.6" fill="#862840" stroke="#1c0509" stroke-width="1.25"/>
<text class="xl" text-anchor="end" transform="translate(223.7,459.7) rotate(-45)">+/+</text>
<text class="xl" text-anchor="end" transform="translate(237.13,459.7) rotate(-45)"><tspan font-style="italic">weh</tspan>/+</text>
<text class="xl" text-anchor="end" transform="translate(250.56,459.7) rotate(-45)"><tspan font-style="italic">weh</tspan>/<tspan font-style="italic">weh</tspan></text>
<text class="xl" text-anchor="end" transform="translate(263.99,459.7) rotate(-45)">+/+</text>
<text class="xl" text-anchor="end" transform="translate(277.42,459.7) rotate(-45)"><tspan font-style="italic">weh</tspan>/+</text>
<text class="xl" text-anchor="end" transform="translate(290.85,459.7) rotate(-45)"><tspan font-style="italic">weh</tspan>/<tspan font-style="italic">weh</tspan></text>
<text class="xl" text-anchor="end" transform="translate(304.28,459.7) rotate(-45)">+/+</text>
<text class="xl" text-anchor="end" transform="translate(317.71,459.7) rotate(-45)"><tspan font-style="italic">weh</tspan>/+</text>
<text class="xl" text-anchor="end" transform="translate(331.14,459.7) rotate(-45)"><tspan font-style="italic">weh</tspan>/<tspan font-style="italic">weh</tspan></text>
<line x1="251.9" y1="483.5" x2="287.8" y2="483.5" stroke="#151515" stroke-width="1.1"/>
<text class="gl" x="251.9" y="492.9" textLength="35.7" lengthAdjust="spacingAndGlyphs"><tspan fill="#a83558" stroke="#a83558">+</tspan><tspan fill="#c4365f" stroke="#c4365f">10uM Iron</tspan></text>
<line x1="292" y1="483.5" x2="327.9" y2="483.5" stroke="#151515" stroke-width="1.1"/>
<text class="gl" x="292" y="492.9" textLength="35.7" lengthAdjust="spacingAndGlyphs"><tspan fill="#333" stroke="#333">+</tspan><tspan fill="#56483f" stroke="#56483f">15uM Iron</tspan></text></g>
<rect x="0.5" y="0.5" width="519" height="501" fill="none" stroke="#2b2b2b" stroke-width="1"/>
</svg>
</body></html>
